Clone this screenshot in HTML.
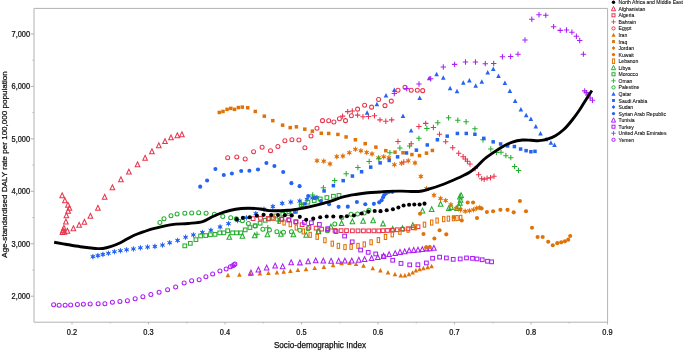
<!DOCTYPE html><html><head><meta charset="utf-8"><title>Age-standardised DALY rate vs Socio-demographic Index</title>
<style>html,body{margin:0;padding:0;background:#fff}body{width:685px;height:350px;overflow:hidden}svg{display:block}text{font-family:"Liberation Sans",sans-serif;fill:#111;stroke:#111;stroke-width:.25px}.lg{stroke-width:.1px;fill:#111}</style></head><body>
<svg width="685" height="350" viewBox="0 0 685 350">
<rect width="685" height="350" fill="#fff"/>
<path d="M34 8.4H607.6V322.2H34Z" fill="none" stroke="#b2b2b2" stroke-width="1"/>
<text transform="translate(72 334.6) scale(0.88 1)" font-size="8.4" text-anchor="middle">0.2</text>
<text transform="translate(148.5 334.6) scale(0.88 1)" font-size="8.4" text-anchor="middle">0.3</text>
<text transform="translate(225 334.6) scale(0.88 1)" font-size="8.4" text-anchor="middle">0.4</text>
<text transform="translate(301.5 334.6) scale(0.88 1)" font-size="8.4" text-anchor="middle">0.5</text>
<text transform="translate(378 334.6) scale(0.88 1)" font-size="8.4" text-anchor="middle">0.6</text>
<text transform="translate(454.5 334.6) scale(0.88 1)" font-size="8.4" text-anchor="middle">0.7</text>
<text transform="translate(531 334.6) scale(0.88 1)" font-size="8.4" text-anchor="middle">0.8</text>
<text transform="translate(607.5 334.6) scale(0.88 1)" font-size="8.4" text-anchor="middle">0.9</text>
<text transform="translate(30.1 299.2) scale(0.88 1)" font-size="8.4" text-anchor="end">2,000</text>
<text transform="translate(30.1 246.75) scale(0.88 1)" font-size="8.4" text-anchor="end">3,000</text>
<text transform="translate(30.1 194.3) scale(0.88 1)" font-size="8.4" text-anchor="end">4,000</text>
<text transform="translate(30.1 141.85) scale(0.88 1)" font-size="8.4" text-anchor="end">5,000</text>
<text transform="translate(30.1 89.4) scale(0.88 1)" font-size="8.4" text-anchor="end">6,000</text>
<text transform="translate(30.1 36.95) scale(0.88 1)" font-size="8.4" text-anchor="end">7,000</text>
<path d="M72 322.2v2.2M148.5 322.2v2.2M225 322.2v2.2M301.5 322.2v2.2M378 322.2v2.2M454.5 322.2v2.2M531 322.2v2.2M607.5 322.2v2.2M110.25 322.2v1.2M186.75 322.2v1.2M263.25 322.2v1.2M339.75 322.2v1.2M416.25 322.2v1.2M492.75 322.2v1.2M569.25 322.2v1.2M34 296.2h-3.5M34 243.75h-3.5M34 191.3h-3.5M34 138.85h-3.5M34 86.4h-3.5M34 33.95h-3.5M34 269.97h-1.5M34 217.52h-1.5M34 165.07h-1.5M34 112.62h-1.5M34 60.18h-1.5" stroke="#b2b2b2" stroke-width="1" fill="none"/>
<text id="xl" x="320" y="347.8" font-size="8.15" text-anchor="middle">Socio-demographic Index</text>
<text id="yl" transform="translate(6.7 164.5) rotate(-90)" font-size="8.05" text-anchor="middle">Age-standardised DALY rate per 100,000 population</text>
<g transform="translate(0.4 0.45)">
<g><circle cx="53.25" cy="304.25" r="2" fill="none" stroke="#ab1ff5" stroke-width="1.05"/><circle cx="58.75" cy="304.75" r="2" fill="none" stroke="#ab1ff5" stroke-width="1.05"/><circle cx="64.75" cy="304.75" r="2" fill="none" stroke="#ab1ff5" stroke-width="1.05"/><circle cx="70.25" cy="304.5" r="2" fill="none" stroke="#ab1ff5" stroke-width="1.05"/><circle cx="77" cy="304" r="2" fill="none" stroke="#ab1ff5" stroke-width="1.05"/><circle cx="83" cy="303.75" r="2" fill="none" stroke="#ab1ff5" stroke-width="1.05"/><circle cx="89.75" cy="303.5" r="2" fill="none" stroke="#ab1ff5" stroke-width="1.05"/><circle cx="97.75" cy="303.25" r="2" fill="none" stroke="#ab1ff5" stroke-width="1.05"/><circle cx="104.5" cy="303.25" r="2" fill="none" stroke="#ab1ff5" stroke-width="1.05"/><circle cx="112" cy="301.75" r="2" fill="none" stroke="#ab1ff5" stroke-width="1.05"/><circle cx="119.5" cy="301" r="2" fill="none" stroke="#ab1ff5" stroke-width="1.05"/><circle cx="127" cy="300.25" r="2" fill="none" stroke="#ab1ff5" stroke-width="1.05"/><circle cx="134.75" cy="298.25" r="2" fill="none" stroke="#ab1ff5" stroke-width="1.05"/><circle cx="142.5" cy="296.25" r="2" fill="none" stroke="#ab1ff5" stroke-width="1.05"/><circle cx="150.5" cy="294" r="2" fill="none" stroke="#ab1ff5" stroke-width="1.05"/><circle cx="158.7" cy="291.75" r="2" fill="none" stroke="#ab1ff5" stroke-width="1.05"/><circle cx="167.2" cy="289.25" r="2" fill="none" stroke="#ab1ff5" stroke-width="1.05"/><circle cx="175.25" cy="286.5" r="2" fill="none" stroke="#ab1ff5" stroke-width="1.05"/><circle cx="183.75" cy="282.5" r="2" fill="none" stroke="#ab1ff5" stroke-width="1.05"/><circle cx="191.25" cy="280.25" r="2" fill="none" stroke="#ab1ff5" stroke-width="1.05"/><circle cx="198.75" cy="279.25" r="2" fill="none" stroke="#ab1ff5" stroke-width="1.05"/><circle cx="205.5" cy="276.25" r="2" fill="none" stroke="#ab1ff5" stroke-width="1.05"/><circle cx="212.25" cy="273.5" r="2" fill="none" stroke="#ab1ff5" stroke-width="1.05"/><circle cx="219.5" cy="270.5" r="2" fill="none" stroke="#ab1ff5" stroke-width="1.05"/><circle cx="225.75" cy="268.5" r="2" fill="none" stroke="#ab1ff5" stroke-width="1.05"/><circle cx="230" cy="266.25" r="2" fill="none" stroke="#ab1ff5" stroke-width="1.05"/><circle cx="232.25" cy="265.25" r="2" fill="none" stroke="#ab1ff5" stroke-width="1.05"/><circle cx="233.75" cy="264.25" r="2" fill="none" stroke="#ab1ff5" stroke-width="1.05"/><circle cx="234.5" cy="263.5" r="2" fill="none" stroke="#ab1ff5" stroke-width="1.05"/></g>
<g><path d="M61.75 192.4L64.05 197.21H59.45Z" fill="none" stroke="#e8364e" stroke-width="1.05"/><path d="M64.5 197.4L66.8 202.21H62.2Z" fill="none" stroke="#e8364e" stroke-width="1.05"/><path d="M67.5 201.9L69.8 206.71H65.2Z" fill="none" stroke="#e8364e" stroke-width="1.05"/><path d="M69 204.9L71.3 209.71H66.7Z" fill="none" stroke="#e8364e" stroke-width="1.05"/><path d="M67.75 207.9L70.05 212.71H65.45Z" fill="none" stroke="#e8364e" stroke-width="1.05"/><path d="M66 212.4L68.3 217.21H63.7Z" fill="none" stroke="#e8364e" stroke-width="1.05"/><path d="M65.5 218.65L67.8 223.46H63.2Z" fill="none" stroke="#e8364e" stroke-width="1.05"/><path d="M63.5 224.9L65.8 229.71H61.2Z" fill="none" stroke="#e8364e" stroke-width="1.05"/><path d="M62.5 227.4L64.8 232.21H60.2Z" fill="none" stroke="#e8364e" stroke-width="1.05"/><path d="M62 229.15L64.3 233.96H59.7Z" fill="none" stroke="#e8364e" stroke-width="1.05"/><path d="M64 228.9L66.3 233.71H61.7Z" fill="none" stroke="#e8364e" stroke-width="1.05"/><path d="M67 227.9L69.3 232.71H64.7Z" fill="none" stroke="#e8364e" stroke-width="1.05"/><path d="M73 225.4L75.3 230.21H70.7Z" fill="none" stroke="#e8364e" stroke-width="1.05"/><path d="M78.75 221.9L81.05 226.71H76.45Z" fill="none" stroke="#e8364e" stroke-width="1.05"/><path d="M84 218.9L86.3 223.71H81.7Z" fill="none" stroke="#e8364e" stroke-width="1.05"/><path d="M90 212.9L92.3 217.71H87.7Z" fill="none" stroke="#e8364e" stroke-width="1.05"/><path d="M97.5 204.9L99.8 209.71H95.2Z" fill="none" stroke="#e8364e" stroke-width="1.05"/><path d="M104.25 193.9L106.55 198.71H101.95Z" fill="none" stroke="#e8364e" stroke-width="1.05"/><path d="M112 184.4L114.3 189.21H109.7Z" fill="none" stroke="#e8364e" stroke-width="1.05"/><path d="M120.5 176.4L122.8 181.21H118.2Z" fill="none" stroke="#e8364e" stroke-width="1.05"/><path d="M128.5 168.7L130.8 173.51H126.2Z" fill="none" stroke="#e8364e" stroke-width="1.05"/><path d="M137.1 161.4L139.4 166.21H134.8Z" fill="none" stroke="#e8364e" stroke-width="1.05"/><path d="M144.7 154.9L147 159.71H142.4Z" fill="none" stroke="#e8364e" stroke-width="1.05"/><path d="M151.5 148.4L153.8 153.21H149.2Z" fill="none" stroke="#e8364e" stroke-width="1.05"/><path d="M158.4 142.4L160.7 147.21H156.1Z" fill="none" stroke="#e8364e" stroke-width="1.05"/><path d="M164.6 138.2L166.9 143.01H162.3Z" fill="none" stroke="#e8364e" stroke-width="1.05"/><path d="M170.6 134.5L172.9 139.31H168.3Z" fill="none" stroke="#e8364e" stroke-width="1.05"/><path d="M176.9 132.4L179.2 137.21H174.6Z" fill="none" stroke="#e8364e" stroke-width="1.05"/><path d="M181.5 131.4L183.8 136.21H179.2Z" fill="none" stroke="#e8364e" stroke-width="1.05"/></g>
<g><path d="M92.5 253.7L93.12 255.12L94.67 254.95L93.75 256.2L94.67 257.45L93.12 257.28L92.5 258.7L91.88 257.28L90.33 257.45L91.25 256.2L90.33 254.95L91.88 255.12Z" fill="#2563f2"/><path d="M92.5 253.5V258.9M90.16 254.85L94.84 257.55M90.16 257.55L94.84 254.85" stroke="#2563f2" stroke-width="0.84" fill="none"/><path d="M97.5 252.7L98.12 254.12L99.67 253.95L98.75 255.2L99.67 256.45L98.12 256.28L97.5 257.7L96.88 256.28L95.33 256.45L96.25 255.2L95.33 253.95L96.88 254.12Z" fill="#2563f2"/><path d="M97.5 252.5V257.9M95.16 253.85L99.84 256.55M95.16 256.55L99.84 253.85" stroke="#2563f2" stroke-width="0.84" fill="none"/><path d="M102.5 251.5L103.12 252.92L104.67 252.75L103.75 254L104.67 255.25L103.12 255.08L102.5 256.5L101.88 255.08L100.33 255.25L101.25 254L100.33 252.75L101.88 252.92Z" fill="#2563f2"/><path d="M102.5 251.3V256.7M100.16 252.65L104.84 255.35M100.16 255.35L104.84 252.65" stroke="#2563f2" stroke-width="0.84" fill="none"/><path d="M108 250.3L108.62 251.72L110.17 251.55L109.25 252.8L110.17 254.05L108.62 253.88L108 255.3L107.38 253.88L105.83 254.05L106.75 252.8L105.83 251.55L107.38 251.72Z" fill="#2563f2"/><path d="M108 250.1V255.5M105.66 251.45L110.34 254.15M105.66 254.15L110.34 251.45" stroke="#2563f2" stroke-width="0.84" fill="none"/><path d="M114 248.8L114.62 250.22L116.17 250.05L115.25 251.3L116.17 252.55L114.62 252.38L114 253.8L113.38 252.38L111.83 252.55L112.75 251.3L111.83 250.05L113.38 250.22Z" fill="#2563f2"/><path d="M114 248.6V254M111.66 249.95L116.34 252.65M111.66 252.65L116.34 249.95" stroke="#2563f2" stroke-width="0.84" fill="none"/><path d="M120 247.8L120.62 249.22L122.17 249.05L121.25 250.3L122.17 251.55L120.62 251.38L120 252.8L119.38 251.38L117.83 251.55L118.75 250.3L117.83 249.05L119.38 249.22Z" fill="#2563f2"/><path d="M120 247.6V253M117.66 248.95L122.34 251.65M117.66 251.65L122.34 248.95" stroke="#2563f2" stroke-width="0.84" fill="none"/><path d="M126.2 246.9L126.83 248.32L128.37 248.15L127.45 249.4L128.37 250.65L126.83 250.48L126.2 251.9L125.58 250.48L124.03 250.65L124.95 249.4L124.03 248.15L125.58 248.32Z" fill="#2563f2"/><path d="M126.2 246.7V252.1M123.86 248.05L128.54 250.75M123.86 250.75L128.54 248.05" stroke="#2563f2" stroke-width="0.84" fill="none"/><path d="M133 246L133.62 247.42L135.17 247.25L134.25 248.5L135.17 249.75L133.62 249.58L133 251L132.38 249.58L130.83 249.75L131.75 248.5L130.83 247.25L132.38 247.42Z" fill="#2563f2"/><path d="M133 245.8V251.2M130.66 247.15L135.34 249.85M130.66 249.85L135.34 247.15" stroke="#2563f2" stroke-width="0.84" fill="none"/><path d="M140 244.9L140.62 246.32L142.17 246.15L141.25 247.4L142.17 248.65L140.62 248.48L140 249.9L139.38 248.48L137.83 248.65L138.75 247.4L137.83 246.15L139.38 246.32Z" fill="#2563f2"/><path d="M140 244.7V250.1M137.66 246.05L142.34 248.75M137.66 248.75L142.34 246.05" stroke="#2563f2" stroke-width="0.84" fill="none"/><path d="M147.2 244.1L147.82 245.52L149.37 245.35L148.45 246.6L149.37 247.85L147.82 247.68L147.2 249.1L146.57 247.68L145.03 247.85L145.95 246.6L145.03 245.35L146.57 245.52Z" fill="#2563f2"/><path d="M147.2 243.9V249.3M144.86 245.25L149.54 247.95M144.86 247.95L149.54 245.25" stroke="#2563f2" stroke-width="0.84" fill="none"/><path d="M154.5 243.5L155.12 244.92L156.67 244.75L155.75 246L156.67 247.25L155.12 247.08L154.5 248.5L153.88 247.08L152.33 247.25L153.25 246L152.33 244.75L153.88 244.92Z" fill="#2563f2"/><path d="M154.5 243.3V248.7M152.16 244.65L156.84 247.35M152.16 247.35L156.84 244.65" stroke="#2563f2" stroke-width="0.84" fill="none"/><path d="M162.1 242.1L162.72 243.52L164.27 243.35L163.35 244.6L164.27 245.85L162.72 245.68L162.1 247.1L161.47 245.68L159.93 245.85L160.85 244.6L159.93 243.35L161.47 243.52Z" fill="#2563f2"/><path d="M162.1 241.9V247.3M159.76 243.25L164.44 245.95M159.76 245.95L164.44 243.25" stroke="#2563f2" stroke-width="0.84" fill="none"/><path d="M169.3 239.8L169.93 241.22L171.47 241.05L170.55 242.3L171.47 243.55L169.93 243.38L169.3 244.8L168.68 243.38L167.13 243.55L168.05 242.3L167.13 241.05L168.68 241.22Z" fill="#2563f2"/><path d="M169.3 239.6V245M166.96 240.95L171.64 243.65M166.96 243.65L171.64 240.95" stroke="#2563f2" stroke-width="0.84" fill="none"/><path d="M177.2 237.5L177.82 238.92L179.37 238.75L178.45 240L179.37 241.25L177.82 241.08L177.2 242.5L176.57 241.08L175.03 241.25L175.95 240L175.03 238.75L176.57 238.92Z" fill="#2563f2"/><path d="M177.2 237.3V242.7M174.86 238.65L179.54 241.35M174.86 241.35L179.54 238.65" stroke="#2563f2" stroke-width="0.84" fill="none"/><path d="M185.2 234.2L185.82 235.62L187.37 235.45L186.45 236.7L187.37 237.95L185.82 237.78L185.2 239.2L184.57 237.78L183.03 237.95L183.95 236.7L183.03 235.45L184.57 235.62Z" fill="#2563f2"/><path d="M185.2 234V239.4M182.86 235.35L187.54 238.05M182.86 238.05L187.54 235.35" stroke="#2563f2" stroke-width="0.84" fill="none"/><path d="M193 232L193.62 233.42L195.17 233.25L194.25 234.5L195.17 235.75L193.62 235.58L193 237L192.38 235.58L190.83 235.75L191.75 234.5L190.83 233.25L192.38 233.42Z" fill="#2563f2"/><path d="M193 231.8V237.2M190.66 233.15L195.34 235.85M190.66 235.85L195.34 233.15" stroke="#2563f2" stroke-width="0.84" fill="none"/><path d="M202 229.5L202.62 230.92L204.17 230.75L203.25 232L204.17 233.25L202.62 233.08L202 234.5L201.38 233.08L199.83 233.25L200.75 232L199.83 230.75L201.38 230.92Z" fill="#2563f2"/><path d="M202 229.3V234.7M199.66 230.65L204.34 233.35M199.66 233.35L204.34 230.65" stroke="#2563f2" stroke-width="0.84" fill="none"/><path d="M210.5 227.3L211.12 228.72L212.67 228.55L211.75 229.8L212.67 231.05L211.12 230.88L210.5 232.3L209.88 230.88L208.33 231.05L209.25 229.8L208.33 228.55L209.88 228.72Z" fill="#2563f2"/><path d="M210.5 227.1V232.5M208.16 228.45L212.84 231.15M208.16 231.15L212.84 228.45" stroke="#2563f2" stroke-width="0.84" fill="none"/><path d="M219.7 224L220.32 225.42L221.87 225.25L220.95 226.5L221.87 227.75L220.32 227.58L219.7 229L219.07 227.58L217.53 227.75L218.45 226.5L217.53 225.25L219.07 225.42Z" fill="#2563f2"/><path d="M219.7 223.8V229.2M217.36 225.15L222.04 227.85M217.36 227.85L222.04 225.15" stroke="#2563f2" stroke-width="0.84" fill="none"/><path d="M228.1 220.7L228.72 222.12L230.27 221.95L229.35 223.2L230.27 224.45L228.72 224.28L228.1 225.7L227.47 224.28L225.93 224.45L226.85 223.2L225.93 221.95L227.47 222.12Z" fill="#2563f2"/><path d="M228.1 220.5V225.9M225.76 221.85L230.44 224.55M225.76 224.55L230.44 221.85" stroke="#2563f2" stroke-width="0.84" fill="none"/><path d="M237.2 217.6L237.82 219.02L239.37 218.85L238.45 220.1L239.37 221.35L237.82 221.18L237.2 222.6L236.57 221.18L235.03 221.35L235.95 220.1L235.03 218.85L236.57 219.02Z" fill="#2563f2"/><path d="M237.2 217.4V222.8M234.86 218.75L239.54 221.45M234.86 221.45L239.54 218.75" stroke="#2563f2" stroke-width="0.84" fill="none"/><path d="M246 214.8L246.62 216.22L248.17 216.05L247.25 217.3L248.17 218.55L246.62 218.38L246 219.8L245.38 218.38L243.83 218.55L244.75 217.3L243.83 216.05L245.38 216.22Z" fill="#2563f2"/><path d="M246 214.6V220M243.66 215.95L248.34 218.65M243.66 218.65L248.34 215.95" stroke="#2563f2" stroke-width="0.84" fill="none"/><path d="M255.4 210.6L256.02 212.02L257.57 211.85L256.65 213.1L257.57 214.35L256.03 214.18L255.4 215.6L254.78 214.18L253.23 214.35L254.15 213.1L253.23 211.85L254.78 212.02Z" fill="#2563f2"/><path d="M255.4 210.4V215.8M253.06 211.75L257.74 214.45M253.06 214.45L257.74 211.75" stroke="#2563f2" stroke-width="0.84" fill="none"/><path d="M263.6 206.3L264.23 207.72L265.77 207.55L264.85 208.8L265.77 210.05L264.23 209.88L263.6 211.3L262.98 209.88L261.43 210.05L262.35 208.8L261.43 207.55L262.98 207.72Z" fill="#2563f2"/><path d="M263.6 206.1V211.5M261.26 207.45L265.94 210.15M261.26 210.15L265.94 207.45" stroke="#2563f2" stroke-width="0.84" fill="none"/><path d="M272.5 203.6L273.12 205.02L274.67 204.85L273.75 206.1L274.67 207.35L273.12 207.18L272.5 208.6L271.88 207.18L270.33 207.35L271.25 206.1L270.33 204.85L271.88 205.02Z" fill="#2563f2"/><path d="M272.5 203.4V208.8M270.16 204.75L274.84 207.45M270.16 207.45L274.84 204.75" stroke="#2563f2" stroke-width="0.84" fill="none"/><path d="M281.8 200.4L282.43 201.82L283.97 201.65L283.05 202.9L283.97 204.15L282.43 203.98L281.8 205.4L281.18 203.98L279.63 204.15L280.55 202.9L279.63 201.65L281.18 201.82Z" fill="#2563f2"/><path d="M281.8 200.2V205.6M279.46 201.55L284.14 204.25M279.46 204.25L284.14 201.55" stroke="#2563f2" stroke-width="0.84" fill="none"/><path d="M290.4 199.1L291.02 200.52L292.57 200.35L291.65 201.6L292.57 202.85L291.02 202.68L290.4 204.1L289.77 202.68L288.23 202.85L289.15 201.6L288.23 200.35L289.77 200.52Z" fill="#2563f2"/><path d="M290.4 198.9V204.3M288.06 200.25L292.74 202.95M288.06 202.95L292.74 200.25" stroke="#2563f2" stroke-width="0.84" fill="none"/><path d="M299.4 198.1L300.02 199.52L301.57 199.35L300.65 200.6L301.57 201.85L300.02 201.68L299.4 203.1L298.77 201.68L297.23 201.85L298.15 200.6L297.23 199.35L298.77 199.52Z" fill="#2563f2"/><path d="M299.4 197.9V203.3M297.06 199.25L301.74 201.95M297.06 201.95L301.74 199.25" stroke="#2563f2" stroke-width="0.84" fill="none"/><path d="M306.6 196.5L307.23 197.92L308.77 197.75L307.85 199L308.77 200.25L307.23 200.08L306.6 201.5L305.98 200.08L304.43 200.25L305.35 199L304.43 197.75L305.98 197.92Z" fill="#2563f2"/><path d="M306.6 196.3V201.7M304.26 197.65L308.94 200.35M304.26 200.35L308.94 197.65" stroke="#2563f2" stroke-width="0.84" fill="none"/><path d="M312 195L312.62 196.42L314.17 196.25L313.25 197.5L314.17 198.75L312.62 198.58L312 200L311.38 198.58L309.83 198.75L310.75 197.5L309.83 196.25L311.38 196.42Z" fill="#2563f2"/><path d="M312 194.8V200.2M309.66 196.15L314.34 198.85M309.66 198.85L314.34 196.15" stroke="#2563f2" stroke-width="0.84" fill="none"/><path d="M316.5 194.6L317.12 196.02L318.67 195.85L317.75 197.1L318.67 198.35L317.12 198.18L316.5 199.6L315.88 198.18L314.33 198.35L315.25 197.1L314.33 195.85L315.88 196.02Z" fill="#2563f2"/><path d="M316.5 194.4V199.8M314.16 195.75L318.84 198.45M314.16 198.45L318.84 195.75" stroke="#2563f2" stroke-width="0.84" fill="none"/></g>
<g><circle cx="159.5" cy="222" r="2" fill="none" stroke="#25ad2e" stroke-width="1.05"/><circle cx="163.6" cy="218.4" r="2" fill="none" stroke="#25ad2e" stroke-width="1.05"/><circle cx="170.6" cy="215.4" r="2" fill="none" stroke="#25ad2e" stroke-width="1.05"/><circle cx="176.7" cy="213.5" r="2" fill="none" stroke="#25ad2e" stroke-width="1.05"/><circle cx="184.4" cy="212.9" r="2" fill="none" stroke="#25ad2e" stroke-width="1.05"/><circle cx="191.3" cy="212.5" r="2" fill="none" stroke="#25ad2e" stroke-width="1.05"/><circle cx="198.3" cy="212.3" r="2" fill="none" stroke="#25ad2e" stroke-width="1.05"/><circle cx="205.7" cy="212.7" r="2" fill="none" stroke="#25ad2e" stroke-width="1.05"/><circle cx="214" cy="213.7" r="2" fill="none" stroke="#25ad2e" stroke-width="1.05"/><circle cx="222.4" cy="216" r="2" fill="none" stroke="#25ad2e" stroke-width="1.05"/><circle cx="230.3" cy="217.2" r="2" fill="none" stroke="#25ad2e" stroke-width="1.05"/><circle cx="235.8" cy="218.4" r="2" fill="none" stroke="#25ad2e" stroke-width="1.05"/><circle cx="242" cy="220.2" r="2" fill="none" stroke="#25ad2e" stroke-width="1.05"/><circle cx="248" cy="223.1" r="2" fill="none" stroke="#25ad2e" stroke-width="1.05"/><circle cx="254.8" cy="225.6" r="2" fill="none" stroke="#25ad2e" stroke-width="1.05"/><circle cx="262.5" cy="228.8" r="2" fill="none" stroke="#25ad2e" stroke-width="1.05"/><circle cx="269" cy="229.5" r="2" fill="none" stroke="#25ad2e" stroke-width="1.05"/><circle cx="276.5" cy="231.2" r="2" fill="none" stroke="#25ad2e" stroke-width="1.05"/><circle cx="283.1" cy="231.7" r="2" fill="none" stroke="#25ad2e" stroke-width="1.05"/><circle cx="291" cy="231.4" r="2" fill="none" stroke="#25ad2e" stroke-width="1.05"/><circle cx="299.5" cy="229.8" r="2" fill="none" stroke="#25ad2e" stroke-width="1.05"/><circle cx="307.8" cy="228.3" r="2" fill="none" stroke="#25ad2e" stroke-width="1.05"/><circle cx="318.1" cy="231.4" r="2" fill="none" stroke="#25ad2e" stroke-width="1.05"/><circle cx="327" cy="230.4" r="2" fill="none" stroke="#25ad2e" stroke-width="1.05"/><circle cx="334.4" cy="223.6" r="2" fill="none" stroke="#25ad2e" stroke-width="1.05"/><circle cx="341.4" cy="217" r="2" fill="none" stroke="#25ad2e" stroke-width="1.05"/><circle cx="350.6" cy="213.9" r="2" fill="none" stroke="#25ad2e" stroke-width="1.05"/><circle cx="357.2" cy="213.5" r="2" fill="none" stroke="#25ad2e" stroke-width="1.05"/><circle cx="363.8" cy="212.5" r="2" fill="none" stroke="#25ad2e" stroke-width="1.05"/><circle cx="368.5" cy="209.8" r="2" fill="none" stroke="#25ad2e" stroke-width="1.05"/></g>
<g><rect x="182.55" y="243.55" width="3.7" height="3.7" fill="none" stroke="#25ad2e" stroke-width="1.05"/><rect x="188.05" y="241.05" width="3.7" height="3.7" fill="none" stroke="#25ad2e" stroke-width="1.05"/><rect x="193.65" y="237.35" width="3.7" height="3.7" fill="none" stroke="#25ad2e" stroke-width="1.05"/><rect x="198.35" y="233.65" width="3.7" height="3.7" fill="none" stroke="#25ad2e" stroke-width="1.05"/><rect x="203.45" y="233.25" width="3.7" height="3.7" fill="none" stroke="#25ad2e" stroke-width="1.05"/><rect x="208.15" y="232.45" width="3.7" height="3.7" fill="none" stroke="#25ad2e" stroke-width="1.05"/><rect x="212.75" y="232.05" width="3.7" height="3.7" fill="none" stroke="#25ad2e" stroke-width="1.05"/><rect x="217.45" y="230.55" width="3.7" height="3.7" fill="none" stroke="#25ad2e" stroke-width="1.05"/><rect x="221.55" y="230.55" width="3.7" height="3.7" fill="none" stroke="#25ad2e" stroke-width="1.05"/><rect x="225.45" y="228.45" width="3.7" height="3.7" fill="none" stroke="#25ad2e" stroke-width="1.05"/><rect x="230.35" y="230.55" width="3.7" height="3.7" fill="none" stroke="#25ad2e" stroke-width="1.05"/><rect x="234.35" y="230.55" width="3.7" height="3.7" fill="none" stroke="#25ad2e" stroke-width="1.05"/><rect x="238.65" y="230.55" width="3.7" height="3.7" fill="none" stroke="#25ad2e" stroke-width="1.05"/><rect x="242.95" y="227.55" width="3.7" height="3.7" fill="none" stroke="#25ad2e" stroke-width="1.05"/><rect x="247.65" y="225.25" width="3.7" height="3.7" fill="none" stroke="#25ad2e" stroke-width="1.05"/><rect x="252.85" y="223.45" width="3.7" height="3.7" fill="none" stroke="#25ad2e" stroke-width="1.05"/><rect x="257.85" y="220.85" width="3.7" height="3.7" fill="none" stroke="#25ad2e" stroke-width="1.05"/><rect x="262.95" y="217.95" width="3.7" height="3.7" fill="none" stroke="#25ad2e" stroke-width="1.05"/><rect x="266.45" y="216.65" width="3.7" height="3.7" fill="none" stroke="#25ad2e" stroke-width="1.05"/><rect x="273.55" y="213.65" width="3.7" height="3.7" fill="none" stroke="#25ad2e" stroke-width="1.05"/><rect x="280.55" y="211.95" width="3.7" height="3.7" fill="none" stroke="#25ad2e" stroke-width="1.05"/><rect x="286.65" y="211.15" width="3.7" height="3.7" fill="none" stroke="#25ad2e" stroke-width="1.05"/><rect x="293.25" y="208.95" width="3.7" height="3.7" fill="none" stroke="#25ad2e" stroke-width="1.05"/><rect x="298.95" y="202.65" width="3.7" height="3.7" fill="none" stroke="#25ad2e" stroke-width="1.05"/><rect x="305.65" y="199.85" width="3.7" height="3.7" fill="none" stroke="#25ad2e" stroke-width="1.05"/><rect x="311.95" y="198.25" width="3.7" height="3.7" fill="none" stroke="#25ad2e" stroke-width="1.05"/><rect x="317.95" y="196.65" width="3.7" height="3.7" fill="none" stroke="#25ad2e" stroke-width="1.05"/><rect x="324.65" y="195.25" width="3.7" height="3.7" fill="none" stroke="#25ad2e" stroke-width="1.05"/><rect x="331.15" y="193.95" width="3.7" height="3.7" fill="none" stroke="#25ad2e" stroke-width="1.05"/><rect x="336.75" y="193.15" width="3.7" height="3.7" fill="none" stroke="#25ad2e" stroke-width="1.05"/></g>
<g><path d="M228.9 234L231.2 238.81H226.6Z" fill="none" stroke="#25ad2e" stroke-width="1.05"/><path d="M242 232.9L244.3 237.71H239.7Z" fill="none" stroke="#25ad2e" stroke-width="1.05"/><path d="M254.3 232.5L256.6 237.31H252Z" fill="none" stroke="#25ad2e" stroke-width="1.05"/><path d="M267 231.4L269.3 236.21H264.7Z" fill="none" stroke="#25ad2e" stroke-width="1.05"/><path d="M280.5 231L282.8 235.81H278.2Z" fill="none" stroke="#25ad2e" stroke-width="1.05"/><path d="M293 231.4L295.3 236.21H290.7Z" fill="none" stroke="#25ad2e" stroke-width="1.05"/><path d="M305.8 231.9L308.1 236.71H303.5Z" fill="none" stroke="#25ad2e" stroke-width="1.05"/><path d="M318.1 228.4L320.4 233.21H315.8Z" fill="none" stroke="#25ad2e" stroke-width="1.05"/><path d="M330.5 223.7L332.8 228.51H328.2Z" fill="none" stroke="#25ad2e" stroke-width="1.05"/><path d="M341.2 220.2L343.5 225.01H338.9Z" fill="none" stroke="#25ad2e" stroke-width="1.05"/><path d="M352 218.5L354.3 223.31H349.7Z" fill="none" stroke="#25ad2e" stroke-width="1.05"/><path d="M362.7 217.9L365 222.71H360.4Z" fill="none" stroke="#25ad2e" stroke-width="1.05"/><path d="M372.7 217.4L375 222.21H370.4Z" fill="none" stroke="#25ad2e" stroke-width="1.05"/><path d="M382.6 220.6L384.9 225.41H380.3Z" fill="none" stroke="#25ad2e" stroke-width="1.05"/><path d="M392.3 226.1L394.6 230.91H390Z" fill="none" stroke="#25ad2e" stroke-width="1.05"/><path d="M402.1 225.3L404.4 230.11H399.8Z" fill="none" stroke="#25ad2e" stroke-width="1.05"/><path d="M412.4 222.2L414.7 227.01H410.1Z" fill="none" stroke="#25ad2e" stroke-width="1.05"/><path d="M422.1 207.8L424.4 212.61H419.8Z" fill="none" stroke="#25ad2e" stroke-width="1.05"/><path d="M431.3 206.2L433.6 211.01H429Z" fill="none" stroke="#25ad2e" stroke-width="1.05"/><path d="M440.2 201L442.5 205.81H437.9Z" fill="none" stroke="#25ad2e" stroke-width="1.05"/><path d="M448.4 205.2L450.7 210.01H446.1Z" fill="none" stroke="#25ad2e" stroke-width="1.05"/><path d="M450.7 204.1L453 208.91H448.4Z" fill="none" stroke="#25ad2e" stroke-width="1.05"/><path d="M456.6 205.2L458.9 210.01H454.3Z" fill="none" stroke="#25ad2e" stroke-width="1.05"/><path d="M458.7 203.1L461 207.91H456.4Z" fill="none" stroke="#25ad2e" stroke-width="1.05"/><path d="M459.5 200L461.8 204.81H457.2Z" fill="none" stroke="#25ad2e" stroke-width="1.05"/><path d="M460.1 196.9L462.4 201.71H457.8Z" fill="none" stroke="#25ad2e" stroke-width="1.05"/><path d="M459.5 193.8L461.8 198.61H457.2Z" fill="none" stroke="#25ad2e" stroke-width="1.05"/><path d="M460.7 192.2L463 197.01H458.4Z" fill="none" stroke="#25ad2e" stroke-width="1.05"/></g>
<g><path d="M227.5 272.35L229.8 276.79H225.2Z" fill="#e07208"/><path d="M239 271.85L241.3 276.29H236.7Z" fill="#e07208"/><path d="M250 271.1L252.3 275.54H247.7Z" fill="#e07208"/><path d="M259.5 270.6L261.8 275.04H257.2Z" fill="#e07208"/><path d="M268 270.1L270.3 274.54H265.7Z" fill="#e07208"/><path d="M276.5 269.6L278.8 274.04H274.2Z" fill="#e07208"/><path d="M283.25 268.85L285.55 273.29H280.95Z" fill="#e07208"/><path d="M290 268.1L292.3 272.54H287.7Z" fill="#e07208"/><path d="M297.5 267.1L299.8 271.54H295.2Z" fill="#e07208"/><path d="M305.6 266.3L307.9 270.74H303.3Z" fill="#e07208"/><path d="M314.3 265.2L316.6 269.64H312Z" fill="#e07208"/><path d="M323.5 264L325.8 268.44H321.2Z" fill="#e07208"/><path d="M332.7 262.3L335 266.74H330.4Z" fill="#e07208"/><path d="M341.2 260.4L343.5 264.84H338.9Z" fill="#e07208"/><path d="M349 260.2L351.3 264.64H346.7Z" fill="#e07208"/><path d="M355.7 261.2L358 265.64H353.4Z" fill="#e07208"/><path d="M363.1 262.8L365.4 267.24H360.8Z" fill="#e07208"/><path d="M372.4 265.4L374.7 269.84H370.1Z" fill="#e07208"/><path d="M380 267.6L382.3 272.04H377.7Z" fill="#e07208"/><path d="M387.6 269.6L389.9 274.04H385.3Z" fill="#e07208"/><path d="M394.6 271.3L396.9 275.74H392.3Z" fill="#e07208"/><path d="M400.4 272.5L402.7 276.94H398.1Z" fill="#e07208"/><path d="M404.5 272.5L406.8 276.94H402.2Z" fill="#e07208"/><path d="M408.5 271.3L410.8 275.74H406.2Z" fill="#e07208"/><path d="M412.2 269.7L414.5 274.14H409.9Z" fill="#e07208"/><path d="M415.5 267.6L417.8 272.04H413.2Z" fill="#e07208"/><path d="M419.2 266.3L421.5 270.74H416.9Z" fill="#e07208"/><path d="M423 265.3L425.3 269.74H420.7Z" fill="#e07208"/><path d="M427.3 264.3L429.6 268.74H425Z" fill="#e07208"/><path d="M431.2 263.3L433.5 267.74H428.9Z" fill="#e07208"/></g>
<g><path d="M250.5 269.65L252.8 274.46H248.2Z" fill="none" stroke="#ab1ff5" stroke-width="1.05"/><path d="M258 266.65L260.3 271.46H255.7Z" fill="none" stroke="#ab1ff5" stroke-width="1.05"/><path d="M266.25 264.65L268.55 269.46H263.95Z" fill="none" stroke="#ab1ff5" stroke-width="1.05"/><path d="M274.75 262.65L277.05 267.46H272.45Z" fill="none" stroke="#ab1ff5" stroke-width="1.05"/><path d="M282.25 263.4L284.55 268.21H279.95Z" fill="none" stroke="#ab1ff5" stroke-width="1.05"/><path d="M290.75 259.4L293.05 264.21H288.45Z" fill="none" stroke="#ab1ff5" stroke-width="1.05"/><path d="M299.5 259.6L301.8 264.41H297.2Z" fill="none" stroke="#ab1ff5" stroke-width="1.05"/><path d="M307.7 258.4L310 263.21H305.4Z" fill="none" stroke="#ab1ff5" stroke-width="1.05"/><path d="M315.3 257.5L317.6 262.31H313Z" fill="none" stroke="#ab1ff5" stroke-width="1.05"/><path d="M322.9 257.7L325.2 262.51H320.6Z" fill="none" stroke="#ab1ff5" stroke-width="1.05"/><path d="M330.7 257.9L333 262.71H328.4Z" fill="none" stroke="#ab1ff5" stroke-width="1.05"/><path d="M338.2 257.9L340.5 262.71H335.9Z" fill="none" stroke="#ab1ff5" stroke-width="1.05"/><path d="M344.5 257.7L346.8 262.51H342.2Z" fill="none" stroke="#ab1ff5" stroke-width="1.05"/><path d="M351.4 257.7L353.7 262.51H349.1Z" fill="none" stroke="#ab1ff5" stroke-width="1.05"/><path d="M358.4 256.9L360.7 261.71H356.1Z" fill="none" stroke="#ab1ff5" stroke-width="1.05"/><path d="M364.2 256.2L366.5 261.01H361.9Z" fill="none" stroke="#ab1ff5" stroke-width="1.05"/><path d="M371.2 255.3L373.5 260.11H368.9Z" fill="none" stroke="#ab1ff5" stroke-width="1.05"/><path d="M377.4 254.3L379.7 259.11H375.1Z" fill="none" stroke="#ab1ff5" stroke-width="1.05"/><path d="M383.2 252.8L385.5 257.61H380.9Z" fill="none" stroke="#ab1ff5" stroke-width="1.05"/><path d="M388.7 251.3L391 256.11H386.4Z" fill="none" stroke="#ab1ff5" stroke-width="1.05"/><path d="M394.8 250.3L397.1 255.11H392.5Z" fill="none" stroke="#ab1ff5" stroke-width="1.05"/><path d="M399.6 249.1L401.9 253.91H397.3Z" fill="none" stroke="#ab1ff5" stroke-width="1.05"/><path d="M404.3 248.5L406.6 253.31H402Z" fill="none" stroke="#ab1ff5" stroke-width="1.05"/><path d="M408.8 247.5L411.1 252.31H406.5Z" fill="none" stroke="#ab1ff5" stroke-width="1.05"/><path d="M413.3 247.1L415.6 251.91H411Z" fill="none" stroke="#ab1ff5" stroke-width="1.05"/><path d="M417.6 246.7L419.9 251.51H415.3Z" fill="none" stroke="#ab1ff5" stroke-width="1.05"/><path d="M421.9 246.2L424.2 251.01H419.6Z" fill="none" stroke="#ab1ff5" stroke-width="1.05"/><path d="M426.3 245.6L428.6 250.41H424Z" fill="none" stroke="#ab1ff5" stroke-width="1.05"/><path d="M429.3 245.4L431.6 250.21H427Z" fill="none" stroke="#ab1ff5" stroke-width="1.05"/><path d="M433.5 245L435.8 249.81H431.2Z" fill="none" stroke="#ab1ff5" stroke-width="1.05"/></g>
<g><circle cx="199.8" cy="186.2" r="2.05" fill="#2563f2"/><circle cx="206.7" cy="180.1" r="2.05" fill="#2563f2"/><circle cx="215" cy="168.6" r="2.05" fill="#2563f2"/><circle cx="223.4" cy="174.5" r="2.05" fill="#2563f2"/><circle cx="231.5" cy="173" r="2.05" fill="#2563f2"/><circle cx="240.8" cy="170.5" r="2.05" fill="#2563f2"/><circle cx="249" cy="170.3" r="2.05" fill="#2563f2"/><circle cx="257.6" cy="169" r="2.05" fill="#2563f2"/><circle cx="266" cy="162.5" r="2.05" fill="#2563f2"/><circle cx="274" cy="165.5" r="2.05" fill="#2563f2"/><circle cx="282.8" cy="171.5" r="2.05" fill="#2563f2"/><circle cx="291" cy="182.7" r="2.05" fill="#2563f2"/><circle cx="299.2" cy="185.7" r="2.05" fill="#2563f2"/><circle cx="307.8" cy="195.6" r="2.05" fill="#2563f2"/><circle cx="313.9" cy="197" r="2.05" fill="#2563f2"/><circle cx="320.5" cy="200.5" r="2.05" fill="#2563f2"/><circle cx="328.7" cy="203.7" r="2.05" fill="#2563f2"/><circle cx="338.2" cy="206.4" r="2.05" fill="#2563f2"/><circle cx="347.4" cy="206.2" r="2.05" fill="#2563f2"/><circle cx="356.5" cy="201.5" r="2.05" fill="#2563f2"/><circle cx="364.9" cy="203.8" r="2.05" fill="#2563f2"/><circle cx="373.5" cy="203.4" r="2.05" fill="#2563f2"/><circle cx="378.8" cy="201.9" r="2.05" fill="#2563f2"/><circle cx="381.2" cy="199.8" r="2.05" fill="#2563f2"/><circle cx="382.7" cy="196.8" r="2.05" fill="#2563f2"/><circle cx="383.7" cy="194.6" r="2.05" fill="#2563f2"/><circle cx="385.5" cy="193" r="2.05" fill="#2563f2"/><circle cx="388.5" cy="191.6" r="2.05" fill="#2563f2"/><circle cx="392" cy="191.4" r="2.05" fill="#2563f2"/></g>
<g><circle cx="227.3" cy="157.4" r="2" fill="none" stroke="#e8364e" stroke-width="1.05"/><circle cx="236.4" cy="156.5" r="2" fill="none" stroke="#e8364e" stroke-width="1.05"/><circle cx="244.8" cy="158.6" r="2" fill="none" stroke="#e8364e" stroke-width="1.05"/><circle cx="253.2" cy="151.4" r="2" fill="none" stroke="#e8364e" stroke-width="1.05"/><circle cx="261.7" cy="146.7" r="2" fill="none" stroke="#e8364e" stroke-width="1.05"/><circle cx="270.1" cy="150.4" r="2" fill="none" stroke="#e8364e" stroke-width="1.05"/><circle cx="277.5" cy="146.1" r="2" fill="none" stroke="#e8364e" stroke-width="1.05"/><circle cx="284.5" cy="140.2" r="2" fill="none" stroke="#e8364e" stroke-width="1.05"/><circle cx="291.5" cy="139.3" r="2" fill="none" stroke="#e8364e" stroke-width="1.05"/><circle cx="298.5" cy="139.5" r="2" fill="none" stroke="#e8364e" stroke-width="1.05"/><circle cx="304.5" cy="147.4" r="2" fill="none" stroke="#e8364e" stroke-width="1.05"/><circle cx="310.6" cy="135.6" r="2" fill="none" stroke="#e8364e" stroke-width="1.05"/><circle cx="316.6" cy="127.8" r="2" fill="none" stroke="#e8364e" stroke-width="1.05"/><circle cx="322.1" cy="120.2" r="2" fill="none" stroke="#e8364e" stroke-width="1.05"/><circle cx="328.3" cy="120.3" r="2" fill="none" stroke="#e8364e" stroke-width="1.05"/><circle cx="333.5" cy="121.5" r="2" fill="none" stroke="#e8364e" stroke-width="1.05"/><circle cx="339" cy="118.3" r="2" fill="none" stroke="#e8364e" stroke-width="1.05"/><circle cx="345.1" cy="120.2" r="2" fill="none" stroke="#e8364e" stroke-width="1.05"/><circle cx="351" cy="115.3" r="2" fill="none" stroke="#e8364e" stroke-width="1.05"/><circle cx="357.2" cy="108.7" r="2" fill="none" stroke="#e8364e" stroke-width="1.05"/><circle cx="364.2" cy="104.8" r="2" fill="none" stroke="#e8364e" stroke-width="1.05"/><circle cx="371.2" cy="106.7" r="2" fill="none" stroke="#e8364e" stroke-width="1.05"/><circle cx="378.2" cy="99.1" r="2" fill="none" stroke="#e8364e" stroke-width="1.05"/><circle cx="384.6" cy="105.2" r="2" fill="none" stroke="#e8364e" stroke-width="1.05"/><circle cx="390.9" cy="100.7" r="2" fill="none" stroke="#e8364e" stroke-width="1.05"/><circle cx="397.6" cy="89.8" r="2" fill="none" stroke="#e8364e" stroke-width="1.05"/><circle cx="404.6" cy="86.9" r="2" fill="none" stroke="#e8364e" stroke-width="1.05"/><circle cx="410.8" cy="89.8" r="2" fill="none" stroke="#e8364e" stroke-width="1.05"/><circle cx="416.9" cy="89.8" r="2" fill="none" stroke="#e8364e" stroke-width="1.05"/><circle cx="422.3" cy="90.2" r="2" fill="none" stroke="#e8364e" stroke-width="1.05"/></g>
<g><rect x="217.15" y="110.25" width="3.5" height="3.5" fill="#e07208"/><rect x="220.85" y="109.25" width="3.5" height="3.5" fill="#e07208"/><rect x="224.95" y="107.15" width="3.5" height="3.5" fill="#e07208"/><rect x="228.65" y="106.15" width="3.5" height="3.5" fill="#e07208"/><rect x="232.35" y="107.15" width="3.5" height="3.5" fill="#e07208"/><rect x="236.25" y="105.35" width="3.5" height="3.5" fill="#e07208"/><rect x="240.15" y="104.95" width="3.5" height="3.5" fill="#e07208"/><rect x="245.55" y="105.55" width="3.5" height="3.5" fill="#e07208"/><rect x="253.15" y="109.25" width="3.5" height="3.5" fill="#e07208"/><rect x="262.15" y="113.95" width="3.5" height="3.5" fill="#e07208"/><rect x="270.65" y="118.45" width="3.5" height="3.5" fill="#e07208"/><rect x="280.45" y="122.95" width="3.5" height="3.5" fill="#e07208"/><rect x="288.05" y="125.45" width="3.5" height="3.5" fill="#e07208"/><rect x="294.25" y="124.65" width="3.5" height="3.5" fill="#e07208"/><rect x="302.65" y="126.95" width="3.5" height="3.5" fill="#e07208"/><rect x="310.25" y="128.95" width="3.5" height="3.5" fill="#e07208"/><rect x="319.15" y="131.05" width="3.5" height="3.5" fill="#e07208"/><rect x="326.55" y="131.25" width="3.5" height="3.5" fill="#e07208"/><rect x="335.75" y="132.25" width="3.5" height="3.5" fill="#e07208"/><rect x="343.95" y="134.75" width="3.5" height="3.5" fill="#e07208"/><rect x="353.25" y="137.55" width="3.5" height="3.5" fill="#e07208"/><rect x="363.05" y="141.45" width="3.5" height="3.5" fill="#e07208"/><rect x="373.75" y="144.95" width="3.5" height="3.5" fill="#e07208"/><rect x="383.65" y="148.45" width="3.5" height="3.5" fill="#e07208"/><rect x="392.85" y="149.95" width="3.5" height="3.5" fill="#e07208"/><rect x="400.85" y="150.55" width="3.5" height="3.5" fill="#e07208"/><rect x="409.75" y="152.35" width="3.5" height="3.5" fill="#e07208"/><rect x="417.35" y="153.45" width="3.5" height="3.5" fill="#e07208"/><rect x="424.35" y="150.95" width="3.5" height="3.5" fill="#e07208"/><rect x="430.25" y="148.25" width="3.5" height="3.5" fill="#e07208"/></g>
<g><rect x="250.85" y="216.35" width="3.7" height="3.7" fill="none" stroke="#e8364e" stroke-width="1.05"/><rect x="258.25" y="215.95" width="3.7" height="3.7" fill="none" stroke="#e8364e" stroke-width="1.05"/><rect x="265.95" y="216.15" width="3.7" height="3.7" fill="none" stroke="#e8364e" stroke-width="1.05"/><rect x="271.15" y="216.15" width="3.7" height="3.7" fill="none" stroke="#e8364e" stroke-width="1.05"/><rect x="279.25" y="216.85" width="3.7" height="3.7" fill="none" stroke="#e8364e" stroke-width="1.05"/><rect x="286.45" y="217.65" width="3.7" height="3.7" fill="none" stroke="#e8364e" stroke-width="1.05"/><rect x="293.65" y="219.85" width="3.7" height="3.7" fill="none" stroke="#e8364e" stroke-width="1.05"/><rect x="299.85" y="222.35" width="3.7" height="3.7" fill="none" stroke="#e8364e" stroke-width="1.05"/><rect x="306.65" y="225.05" width="3.7" height="3.7" fill="none" stroke="#e8364e" stroke-width="1.05"/><rect x="313.85" y="225.85" width="3.7" height="3.7" fill="none" stroke="#e8364e" stroke-width="1.05"/><rect x="319.35" y="226.85" width="3.7" height="3.7" fill="none" stroke="#e8364e" stroke-width="1.05"/><rect x="325.55" y="227.45" width="3.7" height="3.7" fill="none" stroke="#e8364e" stroke-width="1.05"/><rect x="332.75" y="228.15" width="3.7" height="3.7" fill="none" stroke="#e8364e" stroke-width="1.05"/><rect x="338.85" y="228.35" width="3.7" height="3.7" fill="none" stroke="#e8364e" stroke-width="1.05"/><rect x="344.25" y="228.35" width="3.7" height="3.7" fill="none" stroke="#e8364e" stroke-width="1.05"/><rect x="350.15" y="228.55" width="3.7" height="3.7" fill="none" stroke="#e8364e" stroke-width="1.05"/><rect x="355.75" y="228.55" width="3.7" height="3.7" fill="none" stroke="#e8364e" stroke-width="1.05"/><rect x="361.15" y="228.55" width="3.7" height="3.7" fill="none" stroke="#e8364e" stroke-width="1.05"/><rect x="366.45" y="228.55" width="3.7" height="3.7" fill="none" stroke="#e8364e" stroke-width="1.05"/><rect x="371.65" y="228.55" width="3.7" height="3.7" fill="none" stroke="#e8364e" stroke-width="1.05"/><rect x="376.45" y="228.55" width="3.7" height="3.7" fill="none" stroke="#e8364e" stroke-width="1.05"/><rect x="380.75" y="228.35" width="3.7" height="3.7" fill="none" stroke="#e8364e" stroke-width="1.05"/><rect x="385.25" y="228.15" width="3.7" height="3.7" fill="none" stroke="#e8364e" stroke-width="1.05"/><rect x="390.05" y="227.95" width="3.7" height="3.7" fill="none" stroke="#e8364e" stroke-width="1.05"/><rect x="395.15" y="227.45" width="3.7" height="3.7" fill="none" stroke="#e8364e" stroke-width="1.05"/><rect x="400.25" y="227.05" width="3.7" height="3.7" fill="none" stroke="#e8364e" stroke-width="1.05"/><rect x="405.85" y="226.45" width="3.7" height="3.7" fill="none" stroke="#e8364e" stroke-width="1.05"/><rect x="411.15" y="225.45" width="3.7" height="3.7" fill="none" stroke="#e8364e" stroke-width="1.05"/><rect x="415.75" y="224.45" width="3.7" height="3.7" fill="none" stroke="#e8364e" stroke-width="1.05"/></g>
<g><rect x="271.3" y="214.5" width="2.4" height="5" fill="none" stroke="#e07208" stroke-width="1.05"/><rect x="277.5" y="218" width="2.4" height="5" fill="none" stroke="#e07208" stroke-width="1.05"/><rect x="282.5" y="219.6" width="2.4" height="5" fill="none" stroke="#e07208" stroke-width="1.05"/><rect x="288.7" y="221.3" width="2.4" height="5" fill="none" stroke="#e07208" stroke-width="1.05"/><rect x="294.7" y="224.6" width="2.4" height="5" fill="none" stroke="#e07208" stroke-width="1.05"/><rect x="301.7" y="228.5" width="2.4" height="5" fill="none" stroke="#e07208" stroke-width="1.05"/><rect x="308.6" y="231.9" width="2.4" height="5" fill="none" stroke="#e07208" stroke-width="1.05"/><rect x="315.6" y="233.9" width="2.4" height="5" fill="none" stroke="#e07208" stroke-width="1.05"/><rect x="323.3" y="237.3" width="2.4" height="5" fill="none" stroke="#e07208" stroke-width="1.05"/><rect x="330.7" y="240.7" width="2.4" height="5" fill="none" stroke="#e07208" stroke-width="1.05"/><rect x="336.8" y="242.9" width="2.4" height="5" fill="none" stroke="#e07208" stroke-width="1.05"/><rect x="343.4" y="244.2" width="2.4" height="5" fill="none" stroke="#e07208" stroke-width="1.05"/><rect x="349.5" y="243.9" width="2.4" height="5" fill="none" stroke="#e07208" stroke-width="1.05"/><rect x="356.4" y="242.9" width="2.4" height="5" fill="none" stroke="#e07208" stroke-width="1.05"/><rect x="362.7" y="241.5" width="2.4" height="5" fill="none" stroke="#e07208" stroke-width="1.05"/><rect x="369.5" y="239.3" width="2.4" height="5" fill="none" stroke="#e07208" stroke-width="1.05"/><rect x="376.8" y="237.1" width="2.4" height="5" fill="none" stroke="#e07208" stroke-width="1.05"/><rect x="383.9" y="234" width="2.4" height="5" fill="none" stroke="#e07208" stroke-width="1.05"/><rect x="390.7" y="231.4" width="2.4" height="5" fill="none" stroke="#e07208" stroke-width="1.05"/><rect x="398.3" y="228.9" width="2.4" height="5" fill="none" stroke="#e07208" stroke-width="1.05"/><rect x="406.5" y="226.8" width="2.4" height="5" fill="none" stroke="#e07208" stroke-width="1.05"/><rect x="413.9" y="224.4" width="2.4" height="5" fill="none" stroke="#e07208" stroke-width="1.05"/><rect x="422.9" y="221.7" width="2.4" height="5" fill="none" stroke="#e07208" stroke-width="1.05"/><rect x="430.1" y="219.6" width="2.4" height="5" fill="none" stroke="#e07208" stroke-width="1.05"/><rect x="435.5" y="217.6" width="2.4" height="5" fill="none" stroke="#e07208" stroke-width="1.05"/><rect x="442.1" y="216.2" width="2.4" height="5" fill="none" stroke="#e07208" stroke-width="1.05"/><rect x="446.8" y="215.7" width="2.4" height="5" fill="none" stroke="#e07208" stroke-width="1.05"/><rect x="451.9" y="215.3" width="2.4" height="5" fill="none" stroke="#e07208" stroke-width="1.05"/><rect x="455.4" y="215.1" width="2.4" height="5" fill="none" stroke="#e07208" stroke-width="1.05"/><rect x="459.1" y="214.9" width="2.4" height="5" fill="none" stroke="#e07208" stroke-width="1.05"/></g>
<g><rect x="279.55" y="217.05" width="3.7" height="3.7" fill="none" stroke="#ab1ff5" stroke-width="1.05"/><rect x="286.75" y="217.55" width="3.7" height="3.7" fill="none" stroke="#ab1ff5" stroke-width="1.05"/><rect x="293.65" y="219.35" width="3.7" height="3.7" fill="none" stroke="#ab1ff5" stroke-width="1.05"/><rect x="302.15" y="220.15" width="3.7" height="3.7" fill="none" stroke="#ab1ff5" stroke-width="1.05"/><rect x="309.15" y="220.45" width="3.7" height="3.7" fill="none" stroke="#ab1ff5" stroke-width="1.05"/><rect x="317.15" y="222.15" width="3.7" height="3.7" fill="none" stroke="#ab1ff5" stroke-width="1.05"/><rect x="325.55" y="226.35" width="3.7" height="3.7" fill="none" stroke="#ab1ff5" stroke-width="1.05"/><rect x="333.75" y="229.25" width="3.7" height="3.7" fill="none" stroke="#ab1ff5" stroke-width="1.05"/><rect x="342.35" y="233.75" width="3.7" height="3.7" fill="none" stroke="#ab1ff5" stroke-width="1.05"/><rect x="349.95" y="239.55" width="3.7" height="3.7" fill="none" stroke="#ab1ff5" stroke-width="1.05"/><rect x="358.35" y="247.75" width="3.7" height="3.7" fill="none" stroke="#ab1ff5" stroke-width="1.05"/><rect x="365.95" y="250.05" width="3.7" height="3.7" fill="none" stroke="#ab1ff5" stroke-width="1.05"/><rect x="373.45" y="251.65" width="3.7" height="3.7" fill="none" stroke="#ab1ff5" stroke-width="1.05"/><rect x="381.25" y="254.35" width="3.7" height="3.7" fill="none" stroke="#ab1ff5" stroke-width="1.05"/><rect x="390.45" y="257.95" width="3.7" height="3.7" fill="none" stroke="#ab1ff5" stroke-width="1.05"/><rect x="398.75" y="261.15" width="3.7" height="3.7" fill="none" stroke="#ab1ff5" stroke-width="1.05"/><rect x="407.45" y="262.55" width="3.7" height="3.7" fill="none" stroke="#ab1ff5" stroke-width="1.05"/><rect x="415.65" y="262.45" width="3.7" height="3.7" fill="none" stroke="#ab1ff5" stroke-width="1.05"/><rect x="424.15" y="260.65" width="3.7" height="3.7" fill="none" stroke="#ab1ff5" stroke-width="1.05"/><rect x="430.35" y="255.95" width="3.7" height="3.7" fill="none" stroke="#ab1ff5" stroke-width="1.05"/><rect x="437.35" y="254.85" width="3.7" height="3.7" fill="none" stroke="#ab1ff5" stroke-width="1.05"/><rect x="444.15" y="255.65" width="3.7" height="3.7" fill="none" stroke="#ab1ff5" stroke-width="1.05"/><rect x="450.95" y="257.05" width="3.7" height="3.7" fill="none" stroke="#ab1ff5" stroke-width="1.05"/><rect x="457.95" y="256.65" width="3.7" height="3.7" fill="none" stroke="#ab1ff5" stroke-width="1.05"/><rect x="464.25" y="255.65" width="3.7" height="3.7" fill="none" stroke="#ab1ff5" stroke-width="1.05"/><rect x="470.25" y="256.05" width="3.7" height="3.7" fill="none" stroke="#ab1ff5" stroke-width="1.05"/><rect x="474.75" y="256.65" width="3.7" height="3.7" fill="none" stroke="#ab1ff5" stroke-width="1.05"/><rect x="479.95" y="257.45" width="3.7" height="3.7" fill="none" stroke="#ab1ff5" stroke-width="1.05"/><rect x="485.25" y="258.95" width="3.7" height="3.7" fill="none" stroke="#ab1ff5" stroke-width="1.05"/><rect x="489.35" y="259.55" width="3.7" height="3.7" fill="none" stroke="#ab1ff5" stroke-width="1.05"/></g>
<g><path d="M316.6 157.8L317.23 159.22L318.77 159.05L317.85 160.3L318.77 161.55L317.23 161.38L316.6 162.8L315.98 161.38L314.43 161.55L315.35 160.3L314.43 159.05L315.98 159.22Z" fill="#e07208"/><path d="M316.6 157.6V163M314.26 158.95L318.94 161.65M314.26 161.65L318.94 158.95" stroke="#e07208" stroke-width="0.84" fill="none"/><path d="M323.4 158.2L324.02 159.62L325.57 159.45L324.65 160.7L325.57 161.95L324.02 161.78L323.4 163.2L322.77 161.78L321.23 161.95L322.15 160.7L321.23 159.45L322.77 159.62Z" fill="#e07208"/><path d="M323.4 158V163.4M321.06 159.35L325.74 162.05M321.06 162.05L325.74 159.35" stroke="#e07208" stroke-width="0.84" fill="none"/><path d="M329.6 161L330.23 162.42L331.77 162.25L330.85 163.5L331.77 164.75L330.23 164.58L329.6 166L328.98 164.58L327.43 164.75L328.35 163.5L327.43 162.25L328.98 162.42Z" fill="#e07208"/><path d="M329.6 160.8V166.2M327.26 162.15L331.94 164.85M327.26 164.85L331.94 162.15" stroke="#e07208" stroke-width="0.84" fill="none"/><path d="M336.4 153.7L337.02 155.12L338.57 154.95L337.65 156.2L338.57 157.45L337.02 157.28L336.4 158.7L335.77 157.28L334.23 157.45L335.15 156.2L334.23 154.95L335.77 155.12Z" fill="#e07208"/><path d="M336.4 153.5V158.9M334.06 154.85L338.74 157.55M334.06 157.55L338.74 154.85" stroke="#e07208" stroke-width="0.84" fill="none"/><path d="M342.5 153.1L343.12 154.52L344.67 154.35L343.75 155.6L344.67 156.85L343.12 156.68L342.5 158.1L341.88 156.68L340.33 156.85L341.25 155.6L340.33 154.35L341.88 154.52Z" fill="#e07208"/><path d="M342.5 152.9V158.3M340.16 154.25L344.84 156.95M340.16 156.95L344.84 154.25" stroke="#e07208" stroke-width="0.84" fill="none"/><path d="M348.9 149.8L349.52 151.22L351.07 151.05L350.15 152.3L351.07 153.55L349.52 153.38L348.9 154.8L348.27 153.38L346.73 153.55L347.65 152.3L346.73 151.05L348.27 151.22Z" fill="#e07208"/><path d="M348.9 149.6V155M346.56 150.95L351.24 153.65M346.56 153.65L351.24 150.95" stroke="#e07208" stroke-width="0.84" fill="none"/><path d="M355 146.3L355.62 147.72L357.17 147.55L356.25 148.8L357.17 150.05L355.62 149.88L355 151.3L354.38 149.88L352.83 150.05L353.75 148.8L352.83 147.55L354.38 147.72Z" fill="#e07208"/><path d="M355 146.1V151.5M352.66 147.45L357.34 150.15M352.66 150.15L357.34 147.45" stroke="#e07208" stroke-width="0.84" fill="none"/><path d="M360.5 147.9L361.12 149.32L362.67 149.15L361.75 150.4L362.67 151.65L361.12 151.48L360.5 152.9L359.88 151.48L358.33 151.65L359.25 150.4L358.33 149.15L359.88 149.32Z" fill="#e07208"/><path d="M360.5 147.7V153.1M358.16 149.05L362.84 151.75M358.16 151.75L362.84 149.05" stroke="#e07208" stroke-width="0.84" fill="none"/><path d="M366.3 149.5L366.93 150.92L368.47 150.75L367.55 152L368.47 153.25L366.93 153.08L366.3 154.5L365.68 153.08L364.13 153.25L365.05 152L364.13 150.75L365.68 150.92Z" fill="#e07208"/><path d="M366.3 149.3V154.7M363.96 150.65L368.64 153.35M363.96 153.35L368.64 150.65" stroke="#e07208" stroke-width="0.84" fill="none"/><path d="M371.6 151L372.23 152.42L373.77 152.25L372.85 153.5L373.77 154.75L372.23 154.58L371.6 156L370.98 154.58L369.43 154.75L370.35 153.5L369.43 152.25L370.98 152.42Z" fill="#e07208"/><path d="M371.6 150.8V156.2M369.26 152.15L373.94 154.85M369.26 154.85L373.94 152.15" stroke="#e07208" stroke-width="0.84" fill="none"/><path d="M378.2 154.9L378.82 156.32L380.37 156.15L379.45 157.4L380.37 158.65L378.82 158.48L378.2 159.9L377.57 158.48L376.03 158.65L376.95 157.4L376.03 156.15L377.57 156.32Z" fill="#e07208"/><path d="M378.2 154.7V160.1M375.86 156.05L380.54 158.75M375.86 158.75L380.54 156.05" stroke="#e07208" stroke-width="0.84" fill="none"/><path d="M383.3 153.9L383.93 155.32L385.47 155.15L384.55 156.4L385.47 157.65L383.93 157.48L383.3 158.9L382.68 157.48L381.13 157.65L382.05 156.4L381.13 155.15L382.68 155.32Z" fill="#e07208"/><path d="M383.3 153.7V159.1M380.96 155.05L385.64 157.75M380.96 157.75L385.64 155.05" stroke="#e07208" stroke-width="0.84" fill="none"/><path d="M388.5 154.8L389.12 156.22L390.67 156.05L389.75 157.3L390.67 158.55L389.12 158.38L388.5 159.8L387.88 158.38L386.33 158.55L387.25 157.3L386.33 156.05L387.88 156.22Z" fill="#e07208"/><path d="M388.5 154.6V160M386.16 155.95L390.84 158.65M386.16 158.65L390.84 155.95" stroke="#e07208" stroke-width="0.84" fill="none"/><path d="M394 161.8L394.62 163.22L396.17 163.05L395.25 164.3L396.17 165.55L394.62 165.38L394 166.8L393.38 165.38L391.83 165.55L392.75 164.3L391.83 163.05L393.38 163.22Z" fill="#e07208"/><path d="M394 161.6V167M391.66 162.95L396.34 165.65M391.66 165.65L396.34 162.95" stroke="#e07208" stroke-width="0.84" fill="none"/><path d="M401 160.3L401.62 161.72L403.17 161.55L402.25 162.8L403.17 164.05L401.62 163.88L401 165.3L400.38 163.88L398.83 164.05L399.75 162.8L398.83 161.55L400.38 161.72Z" fill="#e07208"/><path d="M401 160.1V165.5M398.66 161.45L403.34 164.15M398.66 164.15L403.34 161.45" stroke="#e07208" stroke-width="0.84" fill="none"/><path d="M407.8 157.9L408.43 159.32L409.97 159.15L409.05 160.4L409.97 161.65L408.43 161.48L407.8 162.9L407.18 161.48L405.63 161.65L406.55 160.4L405.63 159.15L407.18 159.32Z" fill="#e07208"/><path d="M407.8 157.7V163.1M405.46 159.05L410.14 161.75M405.46 161.75L410.14 159.05" stroke="#e07208" stroke-width="0.84" fill="none"/><path d="M414.6 160L415.23 161.42L416.77 161.25L415.85 162.5L416.77 163.75L415.23 163.58L414.6 165L413.98 163.58L412.43 163.75L413.35 162.5L412.43 161.25L413.98 161.42Z" fill="#e07208"/><path d="M414.6 159.8V165.2M412.26 161.15L416.94 163.85M412.26 163.85L416.94 161.15" stroke="#e07208" stroke-width="0.84" fill="none"/><path d="M420.5 173.5L421.12 174.92L422.67 174.75L421.75 176L422.67 177.25L421.12 177.08L420.5 178.5L419.88 177.08L418.33 177.25L419.25 176L418.33 174.75L419.88 174.92Z" fill="#e07208"/><path d="M420.5 173.3V178.7M418.16 174.65L422.84 177.35M418.16 177.35L422.84 174.65" stroke="#e07208" stroke-width="0.84" fill="none"/><path d="M426.2 185.7L426.82 187.12L428.37 186.95L427.45 188.2L428.37 189.45L426.82 189.28L426.2 190.7L425.57 189.28L424.03 189.45L424.95 188.2L424.03 186.95L425.57 187.12Z" fill="#e07208"/><path d="M426.2 185.5V190.9M423.86 186.85L428.54 189.55M423.86 189.55L428.54 186.85" stroke="#e07208" stroke-width="0.84" fill="none"/><path d="M433.6 192.3L434.23 193.72L435.77 193.55L434.85 194.8L435.77 196.05L434.23 195.88L433.6 197.3L432.98 195.88L431.43 196.05L432.35 194.8L431.43 193.55L432.98 193.72Z" fill="#e07208"/><path d="M433.6 192.1V197.5M431.26 193.45L435.94 196.15M431.26 196.15L435.94 193.45" stroke="#e07208" stroke-width="0.84" fill="none"/><path d="M440.2 195.6L440.82 197.02L442.37 196.85L441.45 198.1L442.37 199.35L440.82 199.18L440.2 200.6L439.57 199.18L438.03 199.35L438.95 198.1L438.03 196.85L439.57 197.02Z" fill="#e07208"/><path d="M440.2 195.4V200.8M437.86 196.75L442.54 199.45M437.86 199.45L442.54 196.75" stroke="#e07208" stroke-width="0.84" fill="none"/><path d="M445.3 197.6L445.93 199.02L447.47 198.85L446.55 200.1L447.47 201.35L445.93 201.18L445.3 202.6L444.68 201.18L443.13 201.35L444.05 200.1L443.13 198.85L444.68 199.02Z" fill="#e07208"/><path d="M445.3 197.4V202.8M442.96 198.75L447.64 201.45M442.96 201.45L447.64 198.75" stroke="#e07208" stroke-width="0.84" fill="none"/><path d="M450.5 201.8L451.12 203.22L452.67 203.05L451.75 204.3L452.67 205.55L451.12 205.38L450.5 206.8L449.88 205.38L448.33 205.55L449.25 204.3L448.33 203.05L449.88 203.22Z" fill="#e07208"/><path d="M450.5 201.6V207M448.16 202.95L452.84 205.65M448.16 205.65L452.84 202.95" stroke="#e07208" stroke-width="0.84" fill="none"/><path d="M455.6 205.3L456.23 206.72L457.77 206.55L456.85 207.8L457.77 209.05L456.23 208.88L455.6 210.3L454.98 208.88L453.43 209.05L454.35 207.8L453.43 206.55L454.98 206.72Z" fill="#e07208"/><path d="M455.6 205.1V210.5M453.26 206.45L457.94 209.15M453.26 209.15L457.94 206.45" stroke="#e07208" stroke-width="0.84" fill="none"/><path d="M460 207L460.62 208.42L462.17 208.25L461.25 209.5L462.17 210.75L460.62 210.58L460 212L459.38 210.58L457.83 210.75L458.75 209.5L457.83 208.25L459.38 208.42Z" fill="#e07208"/><path d="M460 206.8V212.2M457.66 208.15L462.34 210.85M457.66 210.85L462.34 208.15" stroke="#e07208" stroke-width="0.84" fill="none"/><path d="M464.8 208.3L465.43 209.72L466.97 209.55L466.05 210.8L466.97 212.05L465.43 211.88L464.8 213.3L464.18 211.88L462.63 212.05L463.55 210.8L462.63 209.55L464.18 209.72Z" fill="#e07208"/><path d="M464.8 208.1V213.5M462.46 209.45L467.14 212.15M462.46 212.15L467.14 209.45" stroke="#e07208" stroke-width="0.84" fill="none"/><path d="M469 207.9L469.62 209.32L471.17 209.15L470.25 210.4L471.17 211.65L469.62 211.48L469 212.9L468.38 211.48L466.83 211.65L467.75 210.4L466.83 209.15L468.38 209.32Z" fill="#e07208"/><path d="M469 207.7V213.1M466.66 209.05L471.34 211.75M466.66 211.75L471.34 209.05" stroke="#e07208" stroke-width="0.84" fill="none"/><path d="M473.1 206.9L473.73 208.32L475.27 208.15L474.35 209.4L475.27 210.65L473.73 210.48L473.1 211.9L472.48 210.48L470.93 210.65L471.85 209.4L470.93 208.15L472.48 208.32Z" fill="#e07208"/><path d="M473.1 206.7V212.1M470.76 208.05L475.44 210.75M470.76 210.75L475.44 208.05" stroke="#e07208" stroke-width="0.84" fill="none"/><path d="M476.2 205.3L476.82 206.72L478.37 206.55L477.45 207.8L478.37 209.05L476.82 208.88L476.2 210.3L475.57 208.88L474.03 209.05L474.95 207.8L474.03 206.55L475.57 206.72Z" fill="#e07208"/><path d="M476.2 205.1V210.5M473.86 206.45L478.54 209.15M473.86 209.15L478.54 206.45" stroke="#e07208" stroke-width="0.84" fill="none"/><path d="M479.3 204.6L479.93 206.02L481.47 205.85L480.55 207.1L481.47 208.35L479.93 208.18L479.3 209.6L478.68 208.18L477.13 208.35L478.05 207.1L477.13 205.85L478.68 206.02Z" fill="#e07208"/><path d="M479.3 204.4V209.8M476.96 205.75L481.64 208.45M476.96 208.45L481.64 205.75" stroke="#e07208" stroke-width="0.84" fill="none"/></g>
<g><circle cx="419.6" cy="213.3" r="2.05" fill="#e07208"/><circle cx="423.1" cy="233.5" r="2.05" fill="#e07208"/><circle cx="434" cy="238" r="2.05" fill="#e07208"/><circle cx="439.2" cy="229.8" r="2.05" fill="#e07208"/><circle cx="445.9" cy="233.9" r="2.05" fill="#e07208"/><circle cx="425.7" cy="246.9" r="2.05" fill="#e07208"/><circle cx="429.4" cy="246.5" r="2.05" fill="#e07208"/><circle cx="453.5" cy="217" r="2.05" fill="#e07208"/><circle cx="461.4" cy="220.1" r="2.05" fill="#e07208"/><circle cx="467.3" cy="202" r="2.05" fill="#e07208"/><circle cx="472.7" cy="202" r="2.05" fill="#e07208"/><circle cx="476.6" cy="217.6" r="2.05" fill="#e07208"/><circle cx="481.2" cy="208" r="2.05" fill="#e07208"/><circle cx="486.5" cy="211.5" r="2.05" fill="#e07208"/><circle cx="492.7" cy="210.8" r="2.05" fill="#e07208"/><circle cx="500" cy="209.4" r="2.05" fill="#e07208"/><circle cx="507.1" cy="209.4" r="2.05" fill="#e07208"/><circle cx="513.3" cy="211.9" r="2.05" fill="#e07208"/><circle cx="519.5" cy="200.6" r="2.05" fill="#e07208"/><circle cx="525.6" cy="210.8" r="2.05" fill="#e07208"/><circle cx="531.6" cy="227.3" r="2.05" fill="#e07208"/><circle cx="537.2" cy="236.5" r="2.05" fill="#e07208"/><circle cx="542.3" cy="236.5" r="2.05" fill="#e07208"/><circle cx="547.8" cy="241.3" r="2.05" fill="#e07208"/><circle cx="552.4" cy="244.8" r="2.05" fill="#e07208"/><circle cx="556.9" cy="242.7" r="2.05" fill="#e07208"/><circle cx="560.8" cy="241.9" r="2.05" fill="#e07208"/><circle cx="564.5" cy="240.9" r="2.05" fill="#e07208"/><circle cx="567.8" cy="239.2" r="2.05" fill="#e07208"/><circle cx="569.8" cy="235.5" r="2.05" fill="#e07208"/></g>
<g><path d="M253.9 233.7H259.3M256.6 231V236.4" stroke="#25ad2e" stroke-width="1.05" fill="none"/><path d="M264.7 227.2H270.1M267.4 224.5V229.9" stroke="#25ad2e" stroke-width="1.05" fill="none"/><path d="M275.3 220.5H280.7M278 217.8V223.2" stroke="#25ad2e" stroke-width="1.05" fill="none"/><path d="M286.8 213H292.2M289.5 210.3V215.7" stroke="#25ad2e" stroke-width="1.05" fill="none"/><path d="M298.3 204H303.7M301 201.3V206.7" stroke="#25ad2e" stroke-width="1.05" fill="none"/><path d="M309.6 194.5H315M312.3 191.8V197.2" stroke="#25ad2e" stroke-width="1.05" fill="none"/><path d="M320.3 187.3H325.7M323 184.6V190" stroke="#25ad2e" stroke-width="1.05" fill="none"/><path d="M331.6 180.1H337M334.3 177.4V182.8" stroke="#25ad2e" stroke-width="1.05" fill="none"/><path d="M343.1 173.3H348.5M345.8 170.6V176" stroke="#25ad2e" stroke-width="1.05" fill="none"/><path d="M354.8 167.1H360.2M357.5 164.4V169.8" stroke="#25ad2e" stroke-width="1.05" fill="none"/><path d="M366.1 161H371.5M368.8 158.3V163.7" stroke="#25ad2e" stroke-width="1.05" fill="none"/><path d="M375.8 158.2H381.2M378.5 155.5V160.9" stroke="#25ad2e" stroke-width="1.05" fill="none"/><path d="M386.8 152.2H392.2M389.5 149.5V154.9" stroke="#25ad2e" stroke-width="1.05" fill="none"/><path d="M396.8 147.5H402.2M399.5 144.8V150.2" stroke="#25ad2e" stroke-width="1.05" fill="none"/><path d="M406.5 145.6H411.9M409.2 142.9V148.3" stroke="#25ad2e" stroke-width="1.05" fill="none"/><path d="M415.8 137.9H421.2M418.5 135.2V140.6" stroke="#25ad2e" stroke-width="1.05" fill="none"/><path d="M423.8 128H429.2M426.5 125.3V130.7" stroke="#25ad2e" stroke-width="1.05" fill="none"/><path d="M434.7 122.3H440.1M437.4 119.6V125" stroke="#25ad2e" stroke-width="1.05" fill="none"/><path d="M445.5 117.3H450.9M448.2 114.6V120" stroke="#25ad2e" stroke-width="1.05" fill="none"/><path d="M454.7 119.8H460.1M457.4 117.1V122.5" stroke="#25ad2e" stroke-width="1.05" fill="none"/><path d="M463 121.3H468.4M465.7 118.6V124" stroke="#25ad2e" stroke-width="1.05" fill="none"/><path d="M471.8 128.4H477.2M474.5 125.7V131.1" stroke="#25ad2e" stroke-width="1.05" fill="none"/><path d="M479.9 139.3H485.3M482.6 136.6V142" stroke="#25ad2e" stroke-width="1.05" fill="none"/><path d="M487.7 148.6H493.1M490.4 145.9V151.3" stroke="#25ad2e" stroke-width="1.05" fill="none"/><path d="M493.3 152H498.7M496 149.3V154.7" stroke="#25ad2e" stroke-width="1.05" fill="none"/><path d="M497.9 151.7H503.3M500.6 149V154.4" stroke="#25ad2e" stroke-width="1.05" fill="none"/><path d="M502.8 155.2H508.2M505.5 152.5V157.9" stroke="#25ad2e" stroke-width="1.05" fill="none"/><path d="M507.7 157.2H513.1M510.4 154.5V159.9" stroke="#25ad2e" stroke-width="1.05" fill="none"/><path d="M511.5 166.1H516.9M514.2 163.4V168.8" stroke="#25ad2e" stroke-width="1.05" fill="none"/><path d="M515.4 170.1H520.8M518.1 167.4V172.8" stroke="#25ad2e" stroke-width="1.05" fill="none"/></g>
<g><rect x="292.85" y="209.65" width="3.5" height="3.5" fill="#2563f2"/><rect x="302.75" y="201.65" width="3.5" height="3.5" fill="#2563f2"/><rect x="312.15" y="195.85" width="3.5" height="3.5" fill="#2563f2"/><rect x="321.95" y="188.75" width="3.5" height="3.5" fill="#2563f2"/><rect x="331.25" y="183.45" width="3.5" height="3.5" fill="#2563f2"/><rect x="341.05" y="178.45" width="3.5" height="3.5" fill="#2563f2"/><rect x="350.25" y="173.85" width="3.5" height="3.5" fill="#2563f2"/><rect x="359.45" y="169.55" width="3.5" height="3.5" fill="#2563f2"/><rect x="368.55" y="164.95" width="3.5" height="3.5" fill="#2563f2"/><rect x="377.95" y="160.65" width="3.5" height="3.5" fill="#2563f2"/><rect x="387.05" y="158.25" width="3.5" height="3.5" fill="#2563f2"/><rect x="395.45" y="154.65" width="3.5" height="3.5" fill="#2563f2"/><rect x="404.35" y="150.75" width="3.5" height="3.5" fill="#2563f2"/><rect x="414.25" y="147.95" width="3.5" height="3.5" fill="#2563f2"/><rect x="425.15" y="142.75" width="3.5" height="3.5" fill="#2563f2"/><rect x="435.25" y="137.55" width="3.5" height="3.5" fill="#2563f2"/><rect x="445.05" y="133.95" width="3.5" height="3.5" fill="#2563f2"/><rect x="455.25" y="131.25" width="3.5" height="3.5" fill="#2563f2"/><rect x="464.15" y="131.25" width="3.5" height="3.5" fill="#2563f2"/><rect x="472.75" y="132.05" width="3.5" height="3.5" fill="#2563f2"/><rect x="481.65" y="136.15" width="3.5" height="3.5" fill="#2563f2"/><rect x="491.05" y="139.65" width="3.5" height="3.5" fill="#2563f2"/><rect x="498.45" y="141.75" width="3.5" height="3.5" fill="#2563f2"/><rect x="505.45" y="143.75" width="3.5" height="3.5" fill="#2563f2"/><rect x="512.25" y="144.35" width="3.5" height="3.5" fill="#2563f2"/><rect x="518.45" y="146.85" width="3.5" height="3.5" fill="#2563f2"/><rect x="523.95" y="148.45" width="3.5" height="3.5" fill="#2563f2"/><rect x="528.75" y="149.55" width="3.5" height="3.5" fill="#2563f2"/><rect x="532.85" y="149.15" width="3.5" height="3.5" fill="#2563f2"/></g>
<g><path d="M339.5 115.7H344.9M342.2 113V118.4" stroke="#e8364e" stroke-width="1.05" fill="none"/><path d="M344.6 111.2H350M347.3 108.5V113.9" stroke="#e8364e" stroke-width="1.05" fill="none"/><path d="M349.2 110.6H354.6M351.9 107.9V113.3" stroke="#e8364e" stroke-width="1.05" fill="none"/><path d="M354.5 114.7H359.9M357.2 112V117.4" stroke="#e8364e" stroke-width="1.05" fill="none"/><path d="M359.9 116.3H365.3M362.6 113.6V119" stroke="#e8364e" stroke-width="1.05" fill="none"/><path d="M365.4 116.1H370.8M368.1 113.4V118.8" stroke="#e8364e" stroke-width="1.05" fill="none"/><path d="M371.4 115.3H376.8M374.1 112.6V118" stroke="#e8364e" stroke-width="1.05" fill="none"/><path d="M376.9 119.4H382.3M379.6 116.7V122.1" stroke="#e8364e" stroke-width="1.05" fill="none"/><path d="M382.7 120.8H388.1M385.4 118.1V123.5" stroke="#e8364e" stroke-width="1.05" fill="none"/><path d="M388.6 119.4H394M391.3 116.7V122.1" stroke="#e8364e" stroke-width="1.05" fill="none"/><path d="M394.9 141H400.3M397.6 138.3V143.7" stroke="#e8364e" stroke-width="1.05" fill="none"/><path d="M400.7 161.5H406.1M403.4 158.8V164.2" stroke="#e8364e" stroke-width="1.05" fill="none"/><path d="M408.1 143.3H413.5M410.8 140.6V146" stroke="#e8364e" stroke-width="1.05" fill="none"/><path d="M415.8 126.1H421.2M418.5 123.4V128.8" stroke="#e8364e" stroke-width="1.05" fill="none"/><path d="M422.6 122.9H428M425.3 120.2V125.6" stroke="#e8364e" stroke-width="1.05" fill="none"/><path d="M430.3 127H435.7M433 124.3V129.7" stroke="#e8364e" stroke-width="1.05" fill="none"/><path d="M436.4 133.7H441.8M439.1 131V136.4" stroke="#e8364e" stroke-width="1.05" fill="none"/><path d="M442.6 141.2H448M445.3 138.5V143.9" stroke="#e8364e" stroke-width="1.05" fill="none"/><path d="M449.6 147.2H455M452.3 144.5V149.9" stroke="#e8364e" stroke-width="1.05" fill="none"/><path d="M455.6 152.8H461M458.3 150.1V155.5" stroke="#e8364e" stroke-width="1.05" fill="none"/><path d="M460 156.3H465.4M462.7 153.6V159" stroke="#e8364e" stroke-width="1.05" fill="none"/><path d="M462.3 158.6H467.7M465 155.9V161.3" stroke="#e8364e" stroke-width="1.05" fill="none"/><path d="M464.3 160.9H469.7M467 158.2V163.6" stroke="#e8364e" stroke-width="1.05" fill="none"/><path d="M466.9 163.6H472.3M469.6 160.9V166.3" stroke="#e8364e" stroke-width="1.05" fill="none"/><path d="M472 168.1H477.4M474.7 165.4V170.8" stroke="#e8364e" stroke-width="1.05" fill="none"/><path d="M475.5 174.3H480.9M478.2 171.6V177" stroke="#e8364e" stroke-width="1.05" fill="none"/><path d="M478.6 178.2H484M481.3 175.5V180.9" stroke="#e8364e" stroke-width="1.05" fill="none"/><path d="M481.1 178.9H486.5M483.8 176.2V181.6" stroke="#e8364e" stroke-width="1.05" fill="none"/><path d="M484 177.7H489.4M486.7 175V180.4" stroke="#e8364e" stroke-width="1.05" fill="none"/><path d="M487.4 177.3H492.8M490.1 174.6V180" stroke="#e8364e" stroke-width="1.05" fill="none"/><path d="M490.9 175.8H496.3M493.6 173.1V178.5" stroke="#e8364e" stroke-width="1.05" fill="none"/></g>
<g><path d="M366.7 109.8L369 114.24H364.4Z" fill="#2563f2"/><path d="M376.5 101.4L378.8 105.84H374.2Z" fill="#2563f2"/><path d="M385.6 92.6L387.9 97.04H383.3Z" fill="#2563f2"/><path d="M393.9 87.1L396.2 91.54H391.6Z" fill="#2563f2"/><path d="M402.6 113.1L404.9 117.54H400.3Z" fill="#2563f2"/><path d="M410.7 127.7L413 132.14H408.4Z" fill="#2563f2"/><path d="M419.3 95.1L421.6 99.54H417Z" fill="#2563f2"/><path d="M428.8 75.4L431.1 79.84H426.5Z" fill="#2563f2"/><path d="M436.2 71.4L438.5 75.84H433.9Z" fill="#2563f2"/><path d="M442.9 74.8L445.2 79.24H440.6Z" fill="#2563f2"/><path d="M449.7 85.3L452 89.74H447.4Z" fill="#2563f2"/><path d="M456.6 88.3L458.9 92.74H454.3Z" fill="#2563f2"/><path d="M462.9 79.8L465.2 84.24H460.6Z" fill="#2563f2"/><path d="M469 77.5L471.3 81.94H466.7Z" fill="#2563f2"/><path d="M475.3 82.9L477.6 87.34H473Z" fill="#2563f2"/><path d="M481.4 78.8L483.7 83.24H479.1Z" fill="#2563f2"/><path d="M487.3 69.6L489.6 74.04H485Z" fill="#2563f2"/><path d="M492.9 66L495.2 70.44H490.6Z" fill="#2563f2"/><path d="M498.1 73.1L500.4 77.54H495.8Z" fill="#2563f2"/><path d="M504.5 80.1L506.8 84.54H502.2Z" fill="#2563f2"/><path d="M509.5 88.1L511.8 92.54H507.2Z" fill="#2563f2"/><path d="M514.8 98.1L517.1 102.54H512.5Z" fill="#2563f2"/><path d="M520.5 106.5L522.8 110.94H518.2Z" fill="#2563f2"/><path d="M525.8 112.4L528.1 116.84H523.5Z" fill="#2563f2"/><path d="M530.5 116.1L532.8 120.54H528.2Z" fill="#2563f2"/><path d="M535.4 123.6L537.7 128.04H533.1Z" fill="#2563f2"/><path d="M540.1 130.6L542.4 135.04H537.8Z" fill="#2563f2"/><path d="M545.7 136.4L548 140.84H543.4Z" fill="#2563f2"/><path d="M550.5 139.9L552.8 144.34H548.2Z" fill="#2563f2"/><path d="M554.1 142.1L556.4 146.54H551.8Z" fill="#2563f2"/></g>
<g><path d="M391.2 93.1H396.6M393.9 90.4V95.8" stroke="#ab1ff5" stroke-width="1.05" fill="none"/><path d="M403.6 88.2H409M406.3 85.5V90.9" stroke="#ab1ff5" stroke-width="1.05" fill="none"/><path d="M415.9 83.5H421.3M418.6 80.8V86.2" stroke="#ab1ff5" stroke-width="1.05" fill="none"/><path d="M427.6 78.3H433M430.3 75.6V81" stroke="#ab1ff5" stroke-width="1.05" fill="none"/><path d="M440.2 66.6H445.6M442.9 63.9V69.3" stroke="#ab1ff5" stroke-width="1.05" fill="none"/><path d="M451.5 63.9H456.9M454.2 61.2V66.6" stroke="#ab1ff5" stroke-width="1.05" fill="none"/><path d="M462.4 61.5H467.8M465.1 58.8V64.2" stroke="#ab1ff5" stroke-width="1.05" fill="none"/><path d="M472.4 61.5H477.8M475.1 58.8V64.2" stroke="#ab1ff5" stroke-width="1.05" fill="none"/><path d="M482.2 63.2H487.6M484.9 60.5V65.9" stroke="#ab1ff5" stroke-width="1.05" fill="none"/><path d="M490.6 63H496M493.3 60.3V65.7" stroke="#ab1ff5" stroke-width="1.05" fill="none"/><path d="M499.3 56.3H504.7M502 53.6V59" stroke="#ab1ff5" stroke-width="1.05" fill="none"/><path d="M507.5 56H512.9M510.2 53.3V58.7" stroke="#ab1ff5" stroke-width="1.05" fill="none"/><path d="M514.9 53.7H520.3M517.6 51V56.4" stroke="#ab1ff5" stroke-width="1.05" fill="none"/><path d="M521.9 39.5H527.3M524.6 36.8V42.2" stroke="#ab1ff5" stroke-width="1.05" fill="none"/><path d="M528.7 18.8H534.1M531.4 16.1V21.5" stroke="#ab1ff5" stroke-width="1.05" fill="none"/><path d="M535.9 14.3H541.3M538.6 11.6V17" stroke="#ab1ff5" stroke-width="1.05" fill="none"/><path d="M542.7 14.9H548.1M545.4 12.2V17.6" stroke="#ab1ff5" stroke-width="1.05" fill="none"/><path d="M550.5 26.2H555.9M553.2 23.5V28.9" stroke="#ab1ff5" stroke-width="1.05" fill="none"/><path d="M557.1 29.9H562.5M559.8 27.2V32.6" stroke="#ab1ff5" stroke-width="1.05" fill="none"/><path d="M563.4 29.5H568.8M566.1 26.8V32.2" stroke="#ab1ff5" stroke-width="1.05" fill="none"/><path d="M568.8 31.7H574.2M571.5 29V34.4" stroke="#ab1ff5" stroke-width="1.05" fill="none"/><path d="M573.3 35.8H578.7M576 33.1V38.5" stroke="#ab1ff5" stroke-width="1.05" fill="none"/><path d="M576.6 40H582M579.3 37.3V42.7" stroke="#ab1ff5" stroke-width="1.05" fill="none"/><path d="M580.3 53.7H585.7M583 51V56.4" stroke="#ab1ff5" stroke-width="1.05" fill="none"/><path d="M581.6 90.4H587M584.3 87.7V93.1" stroke="#ab1ff5" stroke-width="1.05" fill="none"/><path d="M583.2 92.2H588.6M585.9 89.5V94.9" stroke="#ab1ff5" stroke-width="1.05" fill="none"/><path d="M584.7 94.5H590.1M587.4 91.8V97.2" stroke="#ab1ff5" stroke-width="1.05" fill="none"/><path d="M587.1 97.5H592.5M589.8 94.8V100.2" stroke="#ab1ff5" stroke-width="1.05" fill="none"/><path d="M589.4 99.8H594.8M592.1 97.1V102.5" stroke="#ab1ff5" stroke-width="1.05" fill="none"/></g>
<g><circle cx="236.3" cy="218.7" r="2.05" fill="#000"/><circle cx="242.5" cy="217.4" r="2.05" fill="#000"/><circle cx="249.3" cy="216.8" r="2.05" fill="#000"/><circle cx="256.4" cy="215.2" r="2.05" fill="#000"/><circle cx="263.2" cy="214.4" r="2.05" fill="#000"/><circle cx="270.8" cy="214.5" r="2.05" fill="#000"/><circle cx="277.6" cy="214.5" r="2.05" fill="#000"/><circle cx="284.4" cy="214.7" r="2.05" fill="#000"/><circle cx="291.4" cy="215" r="2.05" fill="#000"/><circle cx="299.4" cy="216.4" r="2.05" fill="#000"/><circle cx="305.8" cy="219.3" r="2.05" fill="#000"/><circle cx="312.8" cy="218.2" r="2.05" fill="#000"/><circle cx="319.8" cy="216.8" r="2.05" fill="#000"/><circle cx="326.3" cy="216" r="2.05" fill="#000"/><circle cx="332.9" cy="216" r="2.05" fill="#000"/><circle cx="340.5" cy="216.3" r="2.05" fill="#000"/><circle cx="346.5" cy="215.8" r="2.05" fill="#000"/><circle cx="353.5" cy="215" r="2.05" fill="#000"/><circle cx="361.3" cy="213" r="2.05" fill="#000"/><circle cx="367.9" cy="211.2" r="2.05" fill="#000"/><circle cx="374.3" cy="210.5" r="2.05" fill="#000"/><circle cx="380.1" cy="210.7" r="2.05" fill="#000"/><circle cx="386.3" cy="209.8" r="2.05" fill="#000"/><circle cx="392.5" cy="208.8" r="2.05" fill="#000"/><circle cx="398" cy="207.1" r="2.05" fill="#000"/><circle cx="403.2" cy="205.1" r="2.05" fill="#000"/><circle cx="408.7" cy="204.3" r="2.05" fill="#000"/><circle cx="413.9" cy="204.1" r="2.05" fill="#000"/><circle cx="419.2" cy="204.1" r="2.05" fill="#000"/><circle cx="424.1" cy="203.2" r="2.05" fill="#000"/></g>
<path d="M53.75 241.75C55.62 242.08 60.62 243 65 243.75C69.38 244.5 75 245.54 80 246.25C85 246.96 91.25 247.71 95 248C98.75 248.29 100 248.29 102.5 248C105 247.71 107.08 247.2 110 246.25C112.92 245.3 116.28 244.09 120 242.3C123.72 240.51 128.18 237.42 132.3 235.5C136.42 233.58 140.92 232.1 144.7 230.8C148.48 229.5 150.55 228.8 155 227.7C159.45 226.6 165.93 224.98 171.4 224.2C176.87 223.42 182.67 223.52 187.8 223C192.93 222.48 198.08 222.27 202.2 221.1C206.32 219.93 209.07 217.53 212.5 216C215.93 214.47 219.03 213.1 222.8 211.9C226.57 210.7 230.98 209.48 235.1 208.8C239.22 208.12 243.38 207.85 247.5 207.8C251.62 207.75 256.25 208.1 259.8 208.5C263.35 208.9 264.22 209.98 268.8 210.2C273.38 210.42 281.82 210.2 287.3 209.8C292.78 209.4 296.9 208.65 301.7 207.8C306.5 206.95 311.3 205.9 316.1 204.7C320.9 203.5 326.05 201.98 330.5 200.6C334.95 199.22 338.7 197.5 342.8 196.4C346.9 195.3 350.98 194.68 355.1 194C359.22 193.32 363.38 192.72 367.5 192.3C371.62 191.88 376.6 191.73 379.8 191.5C383 191.27 383.15 191.03 386.7 190.9C390.25 190.77 396.63 190.67 401.1 190.7C405.57 190.73 410.07 191.13 413.5 191.1C416.93 191.07 418.97 190.98 421.7 190.5C424.43 190.02 426.82 189.15 429.9 188.2C432.98 187.25 437.05 185.93 440.2 184.8C443.35 183.67 445.67 182.7 448.8 181.4C451.93 180.1 455.6 178.58 459 177C462.4 175.42 466.28 173.72 469.2 171.9C472.12 170.08 474.07 168.28 476.5 166.1C478.93 163.92 481.32 160.95 483.8 158.8C486.28 156.65 488.42 155.25 491.4 153.2C494.38 151.15 498.27 148.43 501.7 146.5C505.13 144.57 508.58 142.75 512 141.6C515.42 140.45 519.12 139.9 522.2 139.6C525.28 139.3 527.75 139.7 530.5 139.8C533.25 139.9 535.97 140.38 538.7 140.2C541.43 140.02 544.17 139.53 546.9 138.7C549.63 137.87 552.35 136.8 555.1 135.2C557.85 133.6 560.65 131.67 563.4 129.1C566.15 126.53 568.87 123.23 571.6 119.8C574.33 116.37 577.4 112.05 579.8 108.5C582.2 104.95 584.05 101.58 586 98.5C587.95 95.42 590.58 91.42 591.5 90" fill="none" stroke="#000" stroke-width="2.9" stroke-linejoin="round"/>
</g>
<circle cx="613.5" cy="2.2" r="1.68" fill="#000"/>
<text x="618.5" y="4.2" font-size="5.08" class="lg">North Africa and Middle East</text>
<path d="M613.5 6.41L615.57 10.74H611.43Z" fill="none" stroke="#e8364e" stroke-width="1.0"/>
<text x="618.5" y="10.75" font-size="5.08" class="lg">Afghanistan</text>
<rect x="611.98" y="13.79" width="3.03" height="3.03" fill="none" stroke="#e8364e" stroke-width="1.0"/>
<text x="618.5" y="17.31" font-size="5.08" class="lg">Algeria</text>
<path d="M611.29 21.86H615.71M613.5 19.64V24.07" stroke="#e8364e" stroke-width="0.85" fill="none"/>
<text x="618.5" y="23.86" font-size="5.08" class="lg">Bahrain</text>
<circle cx="613.5" cy="28.41" r="1.64" fill="none" stroke="#e8364e" stroke-width="1.0"/>
<text x="618.5" y="30.41" font-size="5.08" class="lg">Egypt</text>
<path d="M613.5 32.81L615.57 36.8H611.43Z" fill="#e07208"/>
<text x="618.5" y="36.97" font-size="5.08" class="lg">Iran</text>
<rect x="612.07" y="40.08" width="2.87" height="2.87" fill="#e07208"/>
<text x="618.5" y="43.52" font-size="5.08" class="lg">Iraq</text>
<path d="M613.5 46.37L613.92 47.33L614.97 47.22L614.35 48.07L614.97 48.92L613.92 48.81L613.5 49.77L613.08 48.81L612.03 48.92L612.65 48.07L612.03 47.22L613.08 47.33Z" fill="#e07208"/><path d="M613.5 46.24V49.91M611.91 47.15L615.09 48.99M611.91 48.99L615.09 47.15" stroke="#e07208" stroke-width="0.8" fill="none"/>
<text x="618.5" y="50.07" font-size="5.08" class="lg">Jordan</text>
<circle cx="613.5" cy="54.62" r="1.68" fill="#e07208"/>
<text x="618.5" y="56.62" font-size="5.08" class="lg">Kuwait</text>
<rect x="612.42" y="58.93" width="2.16" height="4.5" fill="none" stroke="#e07208" stroke-width="1.0"/>
<text x="618.5" y="63.18" font-size="5.08" class="lg">Lebanon</text>
<path d="M613.5 65.39L615.57 69.72H611.43Z" fill="none" stroke="#25ad2e" stroke-width="1.0"/>
<text x="618.5" y="69.73" font-size="5.08" class="lg">Libya</text>
<rect x="611.98" y="72.77" width="3.03" height="3.03" fill="none" stroke="#25ad2e" stroke-width="1.0"/>
<text x="618.5" y="76.28" font-size="5.08" class="lg">Morocco</text>
<path d="M611.29 80.84H615.71M613.5 78.62V83.05" stroke="#25ad2e" stroke-width="0.85" fill="none"/>
<text x="618.5" y="82.84" font-size="5.08" class="lg">Oman</text>
<circle cx="613.5" cy="87.39" r="1.64" fill="none" stroke="#25ad2e" stroke-width="1.0"/>
<text x="618.5" y="89.39" font-size="5.08" class="lg">Palestine</text>
<path d="M613.5 91.78L615.57 95.78H611.43Z" fill="#2563f2"/>
<text x="618.5" y="95.94" font-size="5.08" class="lg">Qatar</text>
<rect x="612.07" y="99.06" width="2.87" height="2.87" fill="#2563f2"/>
<text x="618.5" y="102.5" font-size="5.08" class="lg">Saudi Arabia</text>
<path d="M613.5 105.35L613.92 106.31L614.97 106.2L614.35 107.05L614.97 107.9L613.92 107.78L613.5 108.75L613.08 107.78L612.03 107.9L612.65 107.05L612.03 106.2L613.08 106.31Z" fill="#2563f2"/><path d="M613.5 105.21V108.88M611.91 106.13L615.09 107.97M611.91 107.97L615.09 106.13" stroke="#2563f2" stroke-width="0.8" fill="none"/>
<text x="618.5" y="109.05" font-size="5.08" class="lg">Sudan</text>
<circle cx="613.5" cy="113.6" r="1.68" fill="#2563f2"/>
<text x="618.5" y="115.6" font-size="5.08" class="lg">Syrian Arab Republic</text>
<path d="M613.5 117.81L615.57 122.14H611.43Z" fill="none" stroke="#ab1ff5" stroke-width="1.0"/>
<text x="618.5" y="122.15" font-size="5.08" class="lg">Tunisia</text>
<rect x="611.98" y="125.19" width="3.03" height="3.03" fill="none" stroke="#ab1ff5" stroke-width="1.0"/>
<text x="618.5" y="128.71" font-size="5.08" class="lg">Turkey</text>
<path d="M611.29 133.26H615.71M613.5 131.05V135.47" stroke="#ab1ff5" stroke-width="0.85" fill="none"/>
<text x="618.5" y="135.26" font-size="5.08" class="lg">United Arab Emirates</text>
<circle cx="613.5" cy="139.81" r="1.64" fill="none" stroke="#ab1ff5" stroke-width="1.0"/>
<text x="618.5" y="141.81" font-size="5.08" class="lg">Yemen</text>
</svg></body></html>
